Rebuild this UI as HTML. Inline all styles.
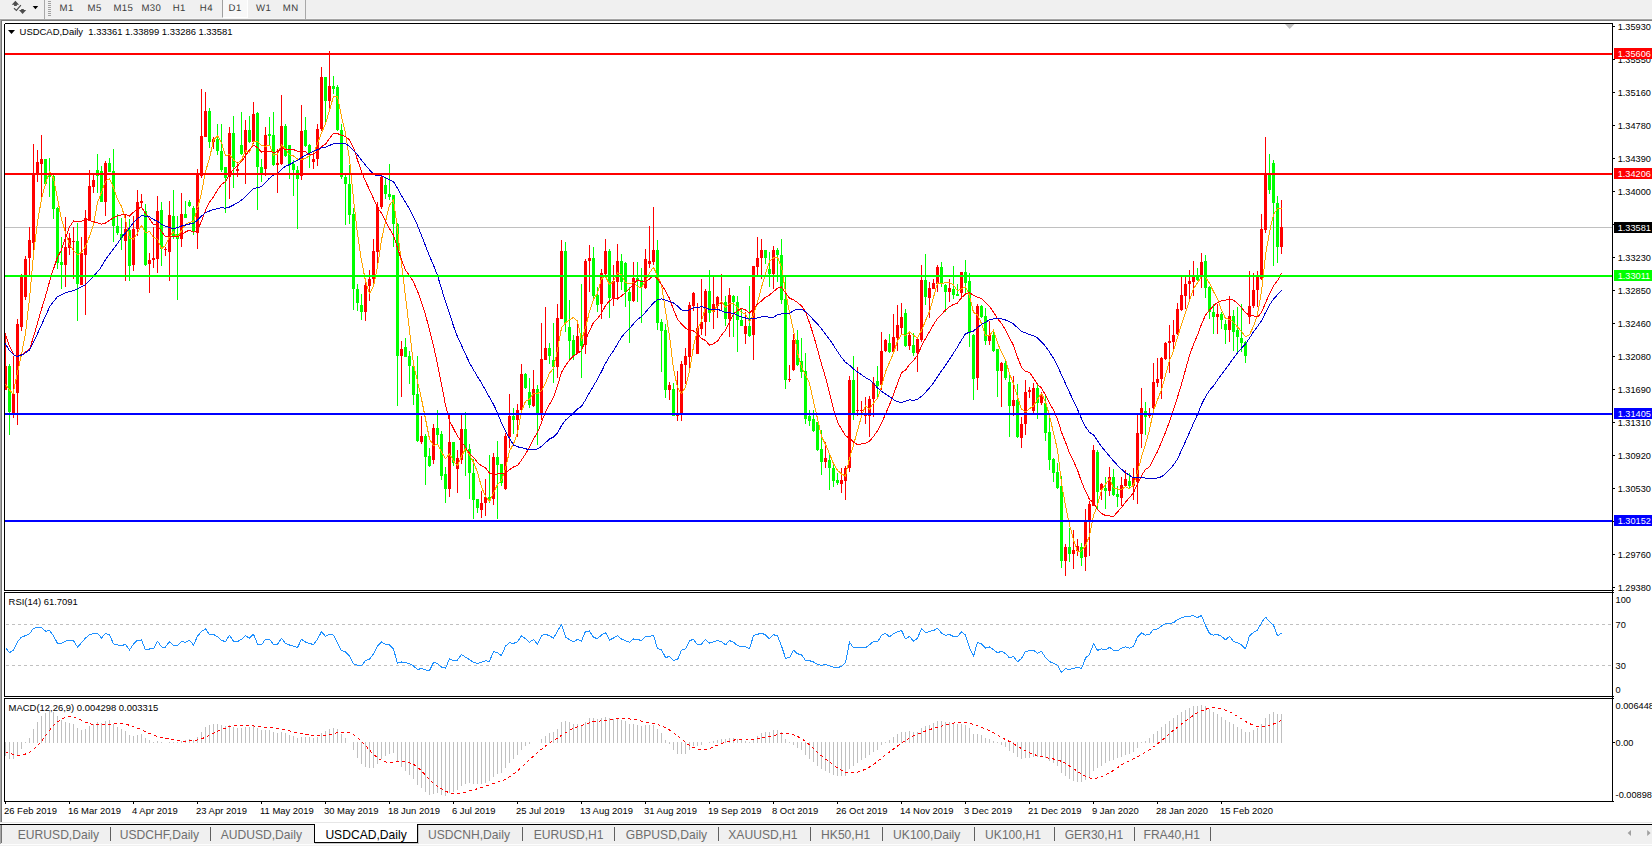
<!DOCTYPE html>
<html><head><meta charset="utf-8"><title>USDCAD,Daily</title>
<style>
html,body{margin:0;padding:0;background:#fff;}
body{width:1652px;height:846px;position:relative;overflow:hidden;font-family:"Liberation Sans",sans-serif;}
.abs{position:absolute;}
#tb{left:0;top:0;width:1652px;height:19px;background:#f0f0f0;}
#tbline{left:0;top:19px;width:1652px;height:2px;background:linear-gradient(#b8b8b8,#6a6a6a);}
.tf{position:absolute;top:2px;font-size:10px;color:#3c3c3c;line-height:12px;white-space:nowrap;}
.tab{position:absolute;top:828px;margin-left:-0.5px;font-size:12.1px;line-height:15px;color:#6e6e6e;white-space:nowrap;}
.sep{position:absolute;top:827px;width:1px;height:14px;background:#606060;}
svg text{font-family:"Liberation Sans",sans-serif;}
</style></head><body>
<div class="abs" id="tb"></div>
<div class="abs" id="tbline"></div>
<div class="abs" style="left:0;top:18px;width:1652px;height:1px;background:#f5f5f5"></div>
<div class="abs" style="left:0;top:20px;width:1px;height:802px;background:#a6a6a6"></div>
<div class="abs" style="left:1px;top:21px;width:1px;height:801px;background:#747474"></div>
<div class="abs" style="left:44px;top:0;width:1px;height:19px;background:#a8a8a8"></div>
<div class="abs" style="left:305px;top:0;width:1px;height:19px;background:#a8a8a8"></div>
<div class="abs" style="left:222px;top:0;width:26px;height:18px;background:#f8f8f8;border-left:1px solid #a0a0a0;border-right:1px solid #fff;border-bottom:1px solid #fff;box-sizing:border-box"></div>

<div class="abs" style="left:48px;top:1px;width:3px;height:1px;background:#a0a0a0"></div>
<div class="abs" style="left:48px;top:3px;width:3px;height:1px;background:#a0a0a0"></div>
<div class="abs" style="left:48px;top:5px;width:3px;height:1px;background:#a0a0a0"></div>
<div class="abs" style="left:48px;top:7px;width:3px;height:1px;background:#a0a0a0"></div>
<div class="abs" style="left:48px;top:9px;width:3px;height:1px;background:#a0a0a0"></div>
<div class="abs" style="left:48px;top:11px;width:3px;height:1px;background:#a0a0a0"></div>
<div class="abs" style="left:48px;top:13px;width:3px;height:1px;background:#a0a0a0"></div>
<div class="abs" style="left:48px;top:15px;width:3px;height:1px;background:#a0a0a0"></div>
<svg class="abs" style="left:0;top:0" width="44" height="19" viewBox="0 0 44 19">
<polygon points="11.7,4.8 15.4,0.7 19.1,4.8 16.8,4.8 16.8,5.9 14.1,5.9 14.1,4.8" fill="#4d4d4d"/>
<polygon points="19,10.1 21.2,10.1 21.2,9 23.8,9 23.8,10.1 26.2,10.1 22.6,14" fill="#4d4d4d"/>
<polyline points="14,8.3 16.4,10.4 20.9,5.1" fill="none" stroke="#4d4d4d" stroke-width="1.15"/>
<polygon points="32.7,6 38.2,6 35.45,9.3" fill="#000"/>
</svg>
<svg class="abs" style="left:0;top:0" width="320" height="19" viewBox="0 0 320 19" text-rendering="geometricPrecision">
<text x="59.5" y="10.9" font-size="9.6" letter-spacing="0.45" fill="#3c3c3c">M1</text>
<text x="87.5" y="10.9" font-size="9.6" letter-spacing="0.45" fill="#3c3c3c">M5</text>
<text x="113.4" y="10.9" font-size="9.6" letter-spacing="0.45" fill="#3c3c3c">M15</text>
<text x="141.4" y="10.9" font-size="9.6" letter-spacing="0.45" fill="#3c3c3c">M30</text>
<text x="172.7" y="10.9" font-size="9.6" letter-spacing="0.45" fill="#3c3c3c">H1</text>
<text x="199.8" y="10.9" font-size="9.6" letter-spacing="0.45" fill="#3c3c3c">H4</text>
<text x="228.6" y="10.9" font-size="9.6" letter-spacing="0.45" fill="#3c3c3c">D1</text>
<text x="256.0" y="10.9" font-size="9.6" letter-spacing="0.45" fill="#3c3c3c">W1</text>
<text x="282.7" y="10.9" font-size="9.6" letter-spacing="0.45" fill="#3c3c3c">MN</text>
</svg>
<svg class="abs" style="left:0;top:0" width="1652" height="846" viewBox="0 0 1652 846" shape-rendering="crispEdges">
<polygon points="1285,24 1294.5,24 1289.7,29" fill="#c0c0c0" shape-rendering="auto"/>
<polygon points="8,30 15,30 11.5,34" fill="#000" shape-rendering="auto"/>
<text x="19.6" y="35" font-size="9.45" fill="#000">USDCAD,Daily&#160; 1.33361 1.33899 1.33286 1.33581</text>
<text x="8.6" y="605" font-size="9.45" fill="#000">RSI(14) 61.7091</text>
<text x="8.6" y="711" font-size="9.45" fill="#000">MACD(12,26,9) 0.004298 0.003315</text>
<path d="M1613,26.5 H1615" stroke="#000"/>
<text x="1617.7" y="29.7" font-size="9.2" fill="#000">1.35930</text>
<path d="M1613,59.5 H1615" stroke="#000"/>
<text x="1617.7" y="62.7" font-size="9.2" fill="#000">1.35550</text>
<path d="M1613,92.5 H1615" stroke="#000"/>
<text x="1617.7" y="95.7" font-size="9.2" fill="#000">1.35160</text>
<path d="M1613,125.5 H1615" stroke="#000"/>
<text x="1617.7" y="128.7" font-size="9.2" fill="#000">1.34780</text>
<path d="M1613,158.5 H1615" stroke="#000"/>
<text x="1617.7" y="161.7" font-size="9.2" fill="#000">1.34390</text>
<path d="M1613,191.5 H1615" stroke="#000"/>
<text x="1617.7" y="194.7" font-size="9.2" fill="#000">1.34000</text>
<path d="M1613,224.5 H1615" stroke="#000"/>
<text x="1617.7" y="227.7" font-size="9.2" fill="#000">1.33620</text>
<path d="M1613,257.5 H1615" stroke="#000"/>
<text x="1617.7" y="260.7" font-size="9.2" fill="#000">1.33230</text>
<path d="M1613,290.5 H1615" stroke="#000"/>
<text x="1617.7" y="293.7" font-size="9.2" fill="#000">1.32850</text>
<path d="M1613,323.5 H1615" stroke="#000"/>
<text x="1617.7" y="326.7" font-size="9.2" fill="#000">1.32460</text>
<path d="M1613,356.5 H1615" stroke="#000"/>
<text x="1617.7" y="359.7" font-size="9.2" fill="#000">1.32080</text>
<path d="M1613,389.5 H1615" stroke="#000"/>
<text x="1617.7" y="392.7" font-size="9.2" fill="#000">1.31690</text>
<path d="M1613,422.5 H1615" stroke="#000"/>
<text x="1617.7" y="425.7" font-size="9.2" fill="#000">1.31310</text>
<path d="M1613,455.5 H1615" stroke="#000"/>
<text x="1617.7" y="458.7" font-size="9.2" fill="#000">1.30920</text>
<path d="M1613,488.5 H1615" stroke="#000"/>
<text x="1617.7" y="491.7" font-size="9.2" fill="#000">1.30530</text>
<path d="M1613,521.5 H1615" stroke="#000"/>
<text x="1617.7" y="524.7" font-size="9.2" fill="#000">1.30150</text>
<path d="M1613,554.5 H1615" stroke="#000"/>
<text x="1617.7" y="557.7" font-size="9.2" fill="#000">1.29760</text>
<path d="M1613,587.5 H1615" stroke="#000"/>
<text x="1617.7" y="590.7" font-size="9.2" fill="#000">1.29380</text>
<path d="M5,227.5 H1612" stroke="#c0c0c0"/>
<g>
<rect x="5" y="333" width="1" height="57" fill="#ff0000"/>
<rect x="4" y="366" width="3" height="24" fill="#ff0000"/>
<rect x="9" y="364" width="1" height="71" fill="#00ff00"/>
<rect x="8" y="366" width="3" height="46" fill="#00ff00"/>
<rect x="13" y="356" width="1" height="62" fill="#ff0000"/>
<rect x="12" y="394" width="3" height="20" fill="#ff0000"/>
<rect x="17" y="319" width="1" height="106" fill="#ff0000"/>
<rect x="16" y="324" width="3" height="69" fill="#ff0000"/>
<rect x="21" y="274" width="1" height="57" fill="#ff0000"/>
<rect x="20" y="276" width="3" height="51" fill="#ff0000"/>
<rect x="25" y="256" width="1" height="44" fill="#ff0000"/>
<rect x="24" y="259" width="3" height="38" fill="#ff0000"/>
<rect x="29" y="227" width="1" height="48" fill="#ff0000"/>
<rect x="28" y="240" width="3" height="18" fill="#ff0000"/>
<rect x="33" y="144" width="1" height="106" fill="#ff0000"/>
<rect x="32" y="173" width="3" height="70" fill="#ff0000"/>
<rect x="37" y="150" width="1" height="32" fill="#ff0000"/>
<rect x="36" y="162" width="3" height="11" fill="#ff0000"/>
<rect x="41" y="135" width="1" height="63" fill="#ff0000"/>
<rect x="40" y="159" width="3" height="5" fill="#ff0000"/>
<rect x="45" y="159" width="1" height="25" fill="#00ff00"/>
<rect x="44" y="159" width="3" height="25" fill="#00ff00"/>
<rect x="49" y="158" width="1" height="39" fill="#00ff00"/>
<rect x="48" y="174" width="3" height="3" fill="#00ff00"/>
<rect x="53" y="175" width="1" height="44" fill="#00ff00"/>
<rect x="52" y="176" width="3" height="33" fill="#00ff00"/>
<rect x="57" y="207" width="1" height="62" fill="#00ff00"/>
<rect x="56" y="208" width="3" height="55" fill="#00ff00"/>
<rect x="61" y="237" width="1" height="52" fill="#00ff00"/>
<rect x="60" y="262" width="3" height="3" fill="#00ff00"/>
<rect x="65" y="217" width="1" height="70" fill="#ff0000"/>
<rect x="64" y="247" width="3" height="18" fill="#ff0000"/>
<rect x="69" y="233" width="1" height="22" fill="#ff0000"/>
<rect x="68" y="238" width="3" height="10" fill="#ff0000"/>
<rect x="73" y="227" width="1" height="52" fill="#ff0000"/>
<rect x="72" y="241" width="3" height="1" fill="#ff0000"/>
<rect x="77" y="223" width="1" height="98" fill="#00ff00"/>
<rect x="76" y="241" width="3" height="43" fill="#00ff00"/>
<rect x="81" y="237" width="1" height="48" fill="#ff0000"/>
<rect x="80" y="253" width="3" height="32" fill="#ff0000"/>
<rect x="85" y="210" width="1" height="105" fill="#ff0000"/>
<rect x="84" y="218" width="3" height="37" fill="#ff0000"/>
<rect x="89" y="170" width="1" height="50" fill="#ff0000"/>
<rect x="88" y="186" width="3" height="34" fill="#ff0000"/>
<rect x="93" y="174" width="1" height="19" fill="#ff0000"/>
<rect x="92" y="180" width="3" height="7" fill="#ff0000"/>
<rect x="97" y="154" width="1" height="39" fill="#00ff00"/>
<rect x="96" y="170" width="3" height="6" fill="#00ff00"/>
<rect x="101" y="166" width="1" height="36" fill="#00ff00"/>
<rect x="100" y="171" width="3" height="31" fill="#00ff00"/>
<rect x="105" y="161" width="1" height="55" fill="#ff0000"/>
<rect x="104" y="163" width="3" height="39" fill="#ff0000"/>
<rect x="109" y="158" width="1" height="14" fill="#00ff00"/>
<rect x="108" y="163" width="3" height="9" fill="#00ff00"/>
<rect x="113" y="149" width="1" height="93" fill="#00ff00"/>
<rect x="112" y="171" width="3" height="55" fill="#00ff00"/>
<rect x="117" y="214" width="1" height="21" fill="#00ff00"/>
<rect x="116" y="226" width="3" height="7" fill="#00ff00"/>
<rect x="121" y="218" width="1" height="32" fill="#00ff00"/>
<rect x="120" y="234" width="3" height="4" fill="#00ff00"/>
<rect x="125" y="214" width="1" height="67" fill="#ff0000"/>
<rect x="124" y="229" width="3" height="12" fill="#ff0000"/>
<rect x="129" y="219" width="1" height="62" fill="#00ff00"/>
<rect x="128" y="230" width="3" height="36" fill="#00ff00"/>
<rect x="133" y="216" width="1" height="55" fill="#ff0000"/>
<rect x="132" y="229" width="3" height="36" fill="#ff0000"/>
<rect x="137" y="190" width="1" height="46" fill="#ff0000"/>
<rect x="136" y="202" width="3" height="27" fill="#ff0000"/>
<rect x="141" y="194" width="1" height="14" fill="#ff0000"/>
<rect x="140" y="201" width="3" height="2" fill="#ff0000"/>
<rect x="145" y="204" width="1" height="62" fill="#00ff00"/>
<rect x="144" y="211" width="3" height="54" fill="#00ff00"/>
<rect x="149" y="253" width="1" height="40" fill="#ff0000"/>
<rect x="148" y="260" width="3" height="4" fill="#ff0000"/>
<rect x="153" y="227" width="1" height="41" fill="#ff0000"/>
<rect x="152" y="258" width="3" height="2" fill="#ff0000"/>
<rect x="157" y="196" width="1" height="77" fill="#ff0000"/>
<rect x="156" y="211" width="3" height="48" fill="#ff0000"/>
<rect x="161" y="202" width="1" height="64" fill="#00ff00"/>
<rect x="160" y="210" width="3" height="39" fill="#00ff00"/>
<rect x="165" y="247" width="1" height="9" fill="#ff0000"/>
<rect x="164" y="249" width="3" height="1" fill="#ff0000"/>
<rect x="169" y="201" width="1" height="80" fill="#ff0000"/>
<rect x="168" y="215" width="3" height="37" fill="#ff0000"/>
<rect x="173" y="190" width="1" height="49" fill="#00ff00"/>
<rect x="172" y="216" width="3" height="20" fill="#00ff00"/>
<rect x="177" y="216" width="1" height="84" fill="#00ff00"/>
<rect x="176" y="234" width="3" height="5" fill="#00ff00"/>
<rect x="181" y="193" width="1" height="54" fill="#ff0000"/>
<rect x="180" y="214" width="3" height="25" fill="#ff0000"/>
<rect x="185" y="201" width="1" height="17" fill="#00ff00"/>
<rect x="184" y="214" width="3" height="4" fill="#00ff00"/>
<rect x="189" y="200" width="1" height="7" fill="#00ff00"/>
<rect x="188" y="202" width="3" height="4" fill="#00ff00"/>
<rect x="193" y="206" width="1" height="29" fill="#00ff00"/>
<rect x="192" y="208" width="3" height="23" fill="#00ff00"/>
<rect x="197" y="169" width="1" height="80" fill="#ff0000"/>
<rect x="196" y="174" width="3" height="59" fill="#ff0000"/>
<rect x="201" y="89" width="1" height="89" fill="#ff0000"/>
<rect x="200" y="136" width="3" height="40" fill="#ff0000"/>
<rect x="205" y="92" width="1" height="45" fill="#ff0000"/>
<rect x="204" y="111" width="3" height="26" fill="#ff0000"/>
<rect x="209" y="108" width="1" height="40" fill="#00ff00"/>
<rect x="208" y="111" width="3" height="31" fill="#00ff00"/>
<rect x="213" y="137" width="1" height="12" fill="#ff0000"/>
<rect x="212" y="139" width="3" height="3" fill="#ff0000"/>
<rect x="217" y="124" width="1" height="31" fill="#00ff00"/>
<rect x="216" y="139" width="3" height="12" fill="#00ff00"/>
<rect x="221" y="124" width="1" height="48" fill="#00ff00"/>
<rect x="220" y="151" width="3" height="19" fill="#00ff00"/>
<rect x="225" y="167" width="1" height="46" fill="#00ff00"/>
<rect x="224" y="167" width="3" height="11" fill="#00ff00"/>
<rect x="229" y="127" width="1" height="72" fill="#ff0000"/>
<rect x="228" y="133" width="3" height="44" fill="#ff0000"/>
<rect x="233" y="116" width="1" height="72" fill="#00ff00"/>
<rect x="232" y="133" width="3" height="34" fill="#00ff00"/>
<rect x="237" y="162" width="1" height="15" fill="#ff0000"/>
<rect x="236" y="169" width="3" height="2" fill="#ff0000"/>
<rect x="241" y="112" width="1" height="43" fill="#00ff00"/>
<rect x="240" y="145" width="3" height="9" fill="#00ff00"/>
<rect x="245" y="120" width="1" height="64" fill="#ff0000"/>
<rect x="244" y="130" width="3" height="22" fill="#ff0000"/>
<rect x="249" y="116" width="1" height="27" fill="#00ff00"/>
<rect x="248" y="130" width="3" height="12" fill="#00ff00"/>
<rect x="253" y="102" width="1" height="42" fill="#ff0000"/>
<rect x="252" y="114" width="3" height="28" fill="#ff0000"/>
<rect x="257" y="112" width="1" height="98" fill="#00ff00"/>
<rect x="256" y="113" width="3" height="54" fill="#00ff00"/>
<rect x="261" y="159" width="1" height="23" fill="#00ff00"/>
<rect x="260" y="167" width="3" height="6" fill="#00ff00"/>
<rect x="265" y="127" width="1" height="49" fill="#ff0000"/>
<rect x="264" y="135" width="3" height="34" fill="#ff0000"/>
<rect x="269" y="117" width="1" height="28" fill="#00ff00"/>
<rect x="268" y="134" width="3" height="2" fill="#00ff00"/>
<rect x="273" y="112" width="1" height="54" fill="#00ff00"/>
<rect x="272" y="135" width="3" height="30" fill="#00ff00"/>
<rect x="277" y="149" width="1" height="44" fill="#ff0000"/>
<rect x="276" y="163" width="3" height="2" fill="#ff0000"/>
<rect x="281" y="95" width="1" height="70" fill="#ff0000"/>
<rect x="280" y="126" width="3" height="38" fill="#ff0000"/>
<rect x="285" y="124" width="1" height="33" fill="#00ff00"/>
<rect x="284" y="126" width="3" height="30" fill="#00ff00"/>
<rect x="289" y="145" width="1" height="34" fill="#00ff00"/>
<rect x="288" y="145" width="3" height="19" fill="#00ff00"/>
<rect x="293" y="160" width="1" height="36" fill="#00ff00"/>
<rect x="292" y="164" width="3" height="6" fill="#00ff00"/>
<rect x="297" y="166" width="1" height="63" fill="#00ff00"/>
<rect x="296" y="170" width="3" height="9" fill="#00ff00"/>
<rect x="301" y="105" width="1" height="75" fill="#ff0000"/>
<rect x="300" y="131" width="3" height="45" fill="#ff0000"/>
<rect x="305" y="117" width="1" height="30" fill="#00ff00"/>
<rect x="304" y="130" width="3" height="16" fill="#00ff00"/>
<rect x="309" y="144" width="1" height="24" fill="#00ff00"/>
<rect x="308" y="145" width="3" height="8" fill="#00ff00"/>
<rect x="313" y="154" width="1" height="15" fill="#ff0000"/>
<rect x="312" y="159" width="3" height="3" fill="#ff0000"/>
<rect x="317" y="124" width="1" height="42" fill="#ff0000"/>
<rect x="316" y="129" width="3" height="30" fill="#ff0000"/>
<rect x="321" y="67" width="1" height="64" fill="#ff0000"/>
<rect x="320" y="77" width="3" height="52" fill="#ff0000"/>
<rect x="325" y="77" width="1" height="48" fill="#00ff00"/>
<rect x="324" y="77" width="3" height="24" fill="#00ff00"/>
<rect x="329" y="51" width="1" height="58" fill="#ff0000"/>
<rect x="328" y="86" width="3" height="15" fill="#ff0000"/>
<rect x="333" y="76" width="1" height="18" fill="#00ff00"/>
<rect x="332" y="86" width="3" height="3" fill="#00ff00"/>
<rect x="337" y="85" width="1" height="46" fill="#00ff00"/>
<rect x="336" y="87" width="3" height="43" fill="#00ff00"/>
<rect x="341" y="124" width="1" height="55" fill="#00ff00"/>
<rect x="340" y="130" width="3" height="47" fill="#00ff00"/>
<rect x="345" y="175" width="1" height="50" fill="#00ff00"/>
<rect x="344" y="177" width="3" height="7" fill="#00ff00"/>
<rect x="349" y="165" width="1" height="59" fill="#00ff00"/>
<rect x="348" y="184" width="3" height="31" fill="#00ff00"/>
<rect x="353" y="208" width="1" height="102" fill="#00ff00"/>
<rect x="352" y="214" width="3" height="75" fill="#00ff00"/>
<rect x="357" y="284" width="1" height="27" fill="#00ff00"/>
<rect x="356" y="289" width="3" height="14" fill="#00ff00"/>
<rect x="361" y="294" width="1" height="26" fill="#00ff00"/>
<rect x="360" y="305" width="3" height="7" fill="#00ff00"/>
<rect x="365" y="282" width="1" height="39" fill="#ff0000"/>
<rect x="364" y="285" width="3" height="27" fill="#ff0000"/>
<rect x="369" y="270" width="1" height="31" fill="#ff0000"/>
<rect x="368" y="279" width="3" height="7" fill="#ff0000"/>
<rect x="373" y="239" width="1" height="44" fill="#ff0000"/>
<rect x="372" y="251" width="3" height="28" fill="#ff0000"/>
<rect x="377" y="202" width="1" height="62" fill="#ff0000"/>
<rect x="376" y="207" width="3" height="45" fill="#ff0000"/>
<rect x="381" y="176" width="1" height="33" fill="#ff0000"/>
<rect x="380" y="177" width="3" height="30" fill="#ff0000"/>
<rect x="385" y="177" width="1" height="22" fill="#00ff00"/>
<rect x="384" y="185" width="3" height="9" fill="#00ff00"/>
<rect x="389" y="164" width="1" height="36" fill="#00ff00"/>
<rect x="388" y="194" width="3" height="3" fill="#00ff00"/>
<rect x="393" y="195" width="1" height="52" fill="#00ff00"/>
<rect x="392" y="195" width="3" height="29" fill="#00ff00"/>
<rect x="397" y="223" width="1" height="183" fill="#00ff00"/>
<rect x="396" y="224" width="3" height="132" fill="#00ff00"/>
<rect x="401" y="341" width="1" height="56" fill="#ff0000"/>
<rect x="400" y="349" width="3" height="7" fill="#ff0000"/>
<rect x="405" y="338" width="1" height="19" fill="#00ff00"/>
<rect x="404" y="347" width="3" height="10" fill="#00ff00"/>
<rect x="409" y="351" width="1" height="33" fill="#00ff00"/>
<rect x="408" y="356" width="3" height="10" fill="#00ff00"/>
<rect x="413" y="365" width="1" height="40" fill="#00ff00"/>
<rect x="412" y="366" width="3" height="29" fill="#00ff00"/>
<rect x="417" y="356" width="1" height="86" fill="#00ff00"/>
<rect x="416" y="394" width="3" height="47" fill="#00ff00"/>
<rect x="421" y="416" width="1" height="28" fill="#ff0000"/>
<rect x="420" y="436" width="3" height="6" fill="#ff0000"/>
<rect x="425" y="434" width="1" height="51" fill="#00ff00"/>
<rect x="424" y="436" width="3" height="21" fill="#00ff00"/>
<rect x="429" y="448" width="1" height="19" fill="#00ff00"/>
<rect x="428" y="456" width="3" height="10" fill="#00ff00"/>
<rect x="433" y="424" width="1" height="40" fill="#ff0000"/>
<rect x="432" y="428" width="3" height="32" fill="#ff0000"/>
<rect x="437" y="410" width="1" height="35" fill="#00ff00"/>
<rect x="436" y="428" width="3" height="7" fill="#00ff00"/>
<rect x="441" y="431" width="1" height="49" fill="#00ff00"/>
<rect x="440" y="434" width="3" height="42" fill="#00ff00"/>
<rect x="445" y="467" width="1" height="36" fill="#00ff00"/>
<rect x="444" y="474" width="3" height="15" fill="#00ff00"/>
<rect x="449" y="414" width="1" height="83" fill="#ff0000"/>
<rect x="448" y="442" width="3" height="47" fill="#ff0000"/>
<rect x="453" y="442" width="1" height="24" fill="#00ff00"/>
<rect x="452" y="442" width="3" height="21" fill="#00ff00"/>
<rect x="457" y="450" width="1" height="43" fill="#ff0000"/>
<rect x="456" y="458" width="3" height="11" fill="#ff0000"/>
<rect x="461" y="415" width="1" height="49" fill="#ff0000"/>
<rect x="460" y="429" width="3" height="31" fill="#ff0000"/>
<rect x="465" y="412" width="1" height="64" fill="#00ff00"/>
<rect x="464" y="429" width="3" height="22" fill="#00ff00"/>
<rect x="469" y="444" width="1" height="55" fill="#00ff00"/>
<rect x="468" y="449" width="3" height="24" fill="#00ff00"/>
<rect x="473" y="459" width="1" height="60" fill="#00ff00"/>
<rect x="472" y="473" width="3" height="27" fill="#00ff00"/>
<rect x="477" y="499" width="1" height="14" fill="#00ff00"/>
<rect x="476" y="499" width="3" height="9" fill="#00ff00"/>
<rect x="481" y="491" width="1" height="27" fill="#ff0000"/>
<rect x="480" y="503" width="3" height="7" fill="#ff0000"/>
<rect x="485" y="479" width="1" height="37" fill="#ff0000"/>
<rect x="484" y="497" width="3" height="6" fill="#ff0000"/>
<rect x="489" y="455" width="1" height="48" fill="#00ff00"/>
<rect x="488" y="497" width="3" height="3" fill="#00ff00"/>
<rect x="493" y="453" width="1" height="52" fill="#ff0000"/>
<rect x="492" y="457" width="3" height="42" fill="#ff0000"/>
<rect x="497" y="441" width="1" height="78" fill="#00ff00"/>
<rect x="496" y="457" width="3" height="8" fill="#00ff00"/>
<rect x="501" y="464" width="1" height="22" fill="#00ff00"/>
<rect x="500" y="464" width="3" height="19" fill="#00ff00"/>
<rect x="505" y="433" width="1" height="57" fill="#ff0000"/>
<rect x="504" y="436" width="3" height="53" fill="#ff0000"/>
<rect x="509" y="394" width="1" height="54" fill="#ff0000"/>
<rect x="508" y="416" width="3" height="21" fill="#ff0000"/>
<rect x="513" y="408" width="1" height="26" fill="#00ff00"/>
<rect x="512" y="416" width="3" height="4" fill="#00ff00"/>
<rect x="517" y="404" width="1" height="33" fill="#ff0000"/>
<rect x="516" y="410" width="3" height="10" fill="#ff0000"/>
<rect x="521" y="364" width="1" height="46" fill="#ff0000"/>
<rect x="520" y="374" width="3" height="36" fill="#ff0000"/>
<rect x="525" y="373" width="1" height="16" fill="#00ff00"/>
<rect x="524" y="374" width="3" height="14" fill="#00ff00"/>
<rect x="529" y="378" width="1" height="30" fill="#00ff00"/>
<rect x="528" y="392" width="3" height="13" fill="#00ff00"/>
<rect x="533" y="370" width="1" height="37" fill="#ff0000"/>
<rect x="532" y="389" width="3" height="17" fill="#ff0000"/>
<rect x="537" y="385" width="1" height="60" fill="#00ff00"/>
<rect x="536" y="389" width="3" height="24" fill="#00ff00"/>
<rect x="541" y="323" width="1" height="97" fill="#ff0000"/>
<rect x="540" y="359" width="3" height="54" fill="#ff0000"/>
<rect x="545" y="307" width="1" height="53" fill="#ff0000"/>
<rect x="544" y="348" width="3" height="12" fill="#ff0000"/>
<rect x="549" y="343" width="1" height="21" fill="#00ff00"/>
<rect x="548" y="348" width="3" height="8" fill="#00ff00"/>
<rect x="553" y="323" width="1" height="60" fill="#00ff00"/>
<rect x="552" y="360" width="3" height="7" fill="#00ff00"/>
<rect x="557" y="304" width="1" height="74" fill="#ff0000"/>
<rect x="556" y="318" width="3" height="49" fill="#ff0000"/>
<rect x="561" y="240" width="1" height="79" fill="#ff0000"/>
<rect x="560" y="251" width="3" height="68" fill="#ff0000"/>
<rect x="565" y="242" width="1" height="90" fill="#00ff00"/>
<rect x="564" y="251" width="3" height="72" fill="#00ff00"/>
<rect x="569" y="300" width="1" height="59" fill="#00ff00"/>
<rect x="568" y="327" width="3" height="14" fill="#00ff00"/>
<rect x="573" y="335" width="1" height="25" fill="#00ff00"/>
<rect x="572" y="340" width="3" height="16" fill="#00ff00"/>
<rect x="577" y="321" width="1" height="32" fill="#ff0000"/>
<rect x="576" y="336" width="3" height="17" fill="#ff0000"/>
<rect x="581" y="284" width="1" height="94" fill="#00ff00"/>
<rect x="580" y="337" width="3" height="9" fill="#00ff00"/>
<rect x="585" y="259" width="1" height="95" fill="#ff0000"/>
<rect x="584" y="261" width="3" height="84" fill="#ff0000"/>
<rect x="589" y="245" width="1" height="47" fill="#ff0000"/>
<rect x="588" y="258" width="3" height="3" fill="#ff0000"/>
<rect x="593" y="247" width="1" height="51" fill="#00ff00"/>
<rect x="592" y="258" width="3" height="38" fill="#00ff00"/>
<rect x="597" y="287" width="1" height="25" fill="#00ff00"/>
<rect x="596" y="295" width="3" height="10" fill="#00ff00"/>
<rect x="601" y="269" width="1" height="50" fill="#ff0000"/>
<rect x="600" y="273" width="3" height="31" fill="#ff0000"/>
<rect x="605" y="239" width="1" height="36" fill="#ff0000"/>
<rect x="604" y="251" width="3" height="23" fill="#ff0000"/>
<rect x="609" y="249" width="1" height="69" fill="#00ff00"/>
<rect x="608" y="251" width="3" height="47" fill="#00ff00"/>
<rect x="613" y="265" width="1" height="41" fill="#ff0000"/>
<rect x="612" y="281" width="3" height="17" fill="#ff0000"/>
<rect x="617" y="244" width="1" height="56" fill="#ff0000"/>
<rect x="616" y="261" width="3" height="21" fill="#ff0000"/>
<rect x="621" y="254" width="1" height="36" fill="#00ff00"/>
<rect x="620" y="261" width="3" height="21" fill="#00ff00"/>
<rect x="625" y="262" width="1" height="45" fill="#00ff00"/>
<rect x="624" y="263" width="3" height="29" fill="#00ff00"/>
<rect x="629" y="287" width="1" height="56" fill="#00ff00"/>
<rect x="628" y="292" width="3" height="9" fill="#00ff00"/>
<rect x="633" y="262" width="1" height="40" fill="#ff0000"/>
<rect x="632" y="278" width="3" height="23" fill="#ff0000"/>
<rect x="637" y="262" width="1" height="40" fill="#00ff00"/>
<rect x="636" y="278" width="3" height="2" fill="#00ff00"/>
<rect x="641" y="268" width="1" height="55" fill="#00ff00"/>
<rect x="640" y="280" width="3" height="7" fill="#00ff00"/>
<rect x="645" y="249" width="1" height="40" fill="#ff0000"/>
<rect x="644" y="259" width="3" height="29" fill="#ff0000"/>
<rect x="649" y="226" width="1" height="42" fill="#ff0000"/>
<rect x="648" y="261" width="3" height="3" fill="#ff0000"/>
<rect x="653" y="207" width="1" height="58" fill="#ff0000"/>
<rect x="652" y="250" width="3" height="12" fill="#ff0000"/>
<rect x="657" y="240" width="1" height="90" fill="#00ff00"/>
<rect x="656" y="250" width="3" height="73" fill="#00ff00"/>
<rect x="661" y="319" width="1" height="53" fill="#00ff00"/>
<rect x="660" y="322" width="3" height="9" fill="#00ff00"/>
<rect x="665" y="324" width="1" height="74" fill="#00ff00"/>
<rect x="664" y="330" width="3" height="60" fill="#00ff00"/>
<rect x="669" y="382" width="1" height="18" fill="#ff0000"/>
<rect x="668" y="385" width="3" height="5" fill="#ff0000"/>
<rect x="673" y="383" width="1" height="33" fill="#00ff00"/>
<rect x="672" y="389" width="3" height="27" fill="#00ff00"/>
<rect x="677" y="371" width="1" height="50" fill="#ff0000"/>
<rect x="676" y="414" width="3" height="2" fill="#ff0000"/>
<rect x="681" y="361" width="1" height="60" fill="#ff0000"/>
<rect x="680" y="364" width="3" height="51" fill="#ff0000"/>
<rect x="685" y="348" width="1" height="36" fill="#ff0000"/>
<rect x="684" y="356" width="3" height="9" fill="#ff0000"/>
<rect x="689" y="302" width="1" height="67" fill="#ff0000"/>
<rect x="688" y="305" width="3" height="52" fill="#ff0000"/>
<rect x="693" y="292" width="1" height="19" fill="#ff0000"/>
<rect x="692" y="293" width="3" height="13" fill="#ff0000"/>
<rect x="697" y="303" width="1" height="51" fill="#ff0000"/>
<rect x="696" y="328" width="3" height="26" fill="#ff0000"/>
<rect x="701" y="279" width="1" height="56" fill="#ff0000"/>
<rect x="700" y="322" width="3" height="7" fill="#ff0000"/>
<rect x="705" y="289" width="1" height="47" fill="#ff0000"/>
<rect x="704" y="291" width="3" height="31" fill="#ff0000"/>
<rect x="709" y="270" width="1" height="52" fill="#00ff00"/>
<rect x="708" y="291" width="3" height="22" fill="#00ff00"/>
<rect x="713" y="277" width="1" height="52" fill="#ff0000"/>
<rect x="712" y="304" width="3" height="8" fill="#ff0000"/>
<rect x="717" y="296" width="1" height="22" fill="#ff0000"/>
<rect x="716" y="297" width="3" height="9" fill="#ff0000"/>
<rect x="721" y="274" width="1" height="37" fill="#ff0000"/>
<rect x="720" y="302" width="3" height="2" fill="#ff0000"/>
<rect x="725" y="296" width="1" height="30" fill="#00ff00"/>
<rect x="724" y="302" width="3" height="17" fill="#00ff00"/>
<rect x="729" y="288" width="1" height="49" fill="#ff0000"/>
<rect x="728" y="295" width="3" height="24" fill="#ff0000"/>
<rect x="733" y="295" width="1" height="42" fill="#00ff00"/>
<rect x="732" y="296" width="3" height="6" fill="#00ff00"/>
<rect x="737" y="296" width="1" height="56" fill="#00ff00"/>
<rect x="736" y="302" width="3" height="18" fill="#00ff00"/>
<rect x="741" y="309" width="1" height="17" fill="#00ff00"/>
<rect x="740" y="320" width="3" height="6" fill="#00ff00"/>
<rect x="745" y="312" width="1" height="32" fill="#ff0000"/>
<rect x="744" y="326" width="3" height="8" fill="#ff0000"/>
<rect x="749" y="286" width="1" height="51" fill="#00ff00"/>
<rect x="748" y="326" width="3" height="10" fill="#00ff00"/>
<rect x="753" y="266" width="1" height="94" fill="#ff0000"/>
<rect x="752" y="266" width="3" height="69" fill="#ff0000"/>
<rect x="757" y="237" width="1" height="38" fill="#ff0000"/>
<rect x="756" y="258" width="3" height="9" fill="#ff0000"/>
<rect x="761" y="239" width="1" height="40" fill="#ff0000"/>
<rect x="760" y="250" width="3" height="8" fill="#ff0000"/>
<rect x="765" y="250" width="1" height="14" fill="#00ff00"/>
<rect x="764" y="250" width="3" height="8" fill="#00ff00"/>
<rect x="769" y="252" width="1" height="35" fill="#00ff00"/>
<rect x="768" y="269" width="3" height="5" fill="#00ff00"/>
<rect x="773" y="246" width="1" height="43" fill="#ff0000"/>
<rect x="772" y="250" width="3" height="24" fill="#ff0000"/>
<rect x="777" y="248" width="1" height="34" fill="#00ff00"/>
<rect x="776" y="250" width="3" height="5" fill="#00ff00"/>
<rect x="781" y="239" width="1" height="65" fill="#00ff00"/>
<rect x="780" y="255" width="3" height="45" fill="#00ff00"/>
<rect x="785" y="277" width="1" height="112" fill="#00ff00"/>
<rect x="784" y="299" width="3" height="81" fill="#00ff00"/>
<rect x="789" y="365" width="1" height="17" fill="#ff0000"/>
<rect x="788" y="379" width="3" height="1" fill="#ff0000"/>
<rect x="793" y="334" width="1" height="37" fill="#ff0000"/>
<rect x="792" y="340" width="3" height="30" fill="#ff0000"/>
<rect x="797" y="330" width="1" height="36" fill="#00ff00"/>
<rect x="796" y="340" width="3" height="25" fill="#00ff00"/>
<rect x="801" y="338" width="1" height="40" fill="#00ff00"/>
<rect x="800" y="361" width="3" height="11" fill="#00ff00"/>
<rect x="805" y="353" width="1" height="71" fill="#00ff00"/>
<rect x="804" y="371" width="3" height="48" fill="#00ff00"/>
<rect x="809" y="410" width="1" height="16" fill="#00ff00"/>
<rect x="808" y="416" width="3" height="5" fill="#00ff00"/>
<rect x="813" y="410" width="1" height="22" fill="#00ff00"/>
<rect x="812" y="419" width="3" height="12" fill="#00ff00"/>
<rect x="817" y="422" width="1" height="29" fill="#00ff00"/>
<rect x="816" y="422" width="3" height="28" fill="#00ff00"/>
<rect x="821" y="430" width="1" height="45" fill="#00ff00"/>
<rect x="820" y="449" width="3" height="13" fill="#00ff00"/>
<rect x="825" y="442" width="1" height="26" fill="#ff0000"/>
<rect x="824" y="458" width="3" height="4" fill="#ff0000"/>
<rect x="829" y="455" width="1" height="35" fill="#00ff00"/>
<rect x="828" y="460" width="3" height="8" fill="#00ff00"/>
<rect x="833" y="464" width="1" height="23" fill="#00ff00"/>
<rect x="832" y="468" width="3" height="13" fill="#00ff00"/>
<rect x="837" y="473" width="1" height="12" fill="#00ff00"/>
<rect x="836" y="480" width="3" height="3" fill="#00ff00"/>
<rect x="841" y="468" width="1" height="25" fill="#ff0000"/>
<rect x="840" y="480" width="3" height="4" fill="#ff0000"/>
<rect x="845" y="466" width="1" height="34" fill="#ff0000"/>
<rect x="844" y="468" width="3" height="13" fill="#ff0000"/>
<rect x="849" y="376" width="1" height="96" fill="#ff0000"/>
<rect x="848" y="380" width="3" height="88" fill="#ff0000"/>
<rect x="853" y="356" width="1" height="64" fill="#00ff00"/>
<rect x="852" y="380" width="3" height="34" fill="#00ff00"/>
<rect x="857" y="367" width="1" height="49" fill="#ff0000"/>
<rect x="856" y="410" width="3" height="1" fill="#ff0000"/>
<rect x="861" y="401" width="1" height="16" fill="#ff0000"/>
<rect x="860" y="410" width="3" height="1" fill="#ff0000"/>
<rect x="865" y="397" width="1" height="27" fill="#ff0000"/>
<rect x="864" y="413" width="3" height="3" fill="#ff0000"/>
<rect x="869" y="396" width="1" height="41" fill="#ff0000"/>
<rect x="868" y="399" width="3" height="17" fill="#ff0000"/>
<rect x="873" y="377" width="1" height="40" fill="#ff0000"/>
<rect x="872" y="383" width="3" height="16" fill="#ff0000"/>
<rect x="877" y="366" width="1" height="31" fill="#00ff00"/>
<rect x="876" y="381" width="3" height="5" fill="#00ff00"/>
<rect x="881" y="332" width="1" height="58" fill="#ff0000"/>
<rect x="880" y="351" width="3" height="34" fill="#ff0000"/>
<rect x="885" y="339" width="1" height="13" fill="#ff0000"/>
<rect x="884" y="340" width="3" height="11" fill="#ff0000"/>
<rect x="889" y="334" width="1" height="19" fill="#00ff00"/>
<rect x="888" y="343" width="3" height="9" fill="#00ff00"/>
<rect x="893" y="314" width="1" height="39" fill="#ff0000"/>
<rect x="892" y="337" width="3" height="15" fill="#ff0000"/>
<rect x="897" y="305" width="1" height="46" fill="#ff0000"/>
<rect x="896" y="325" width="3" height="13" fill="#ff0000"/>
<rect x="901" y="303" width="1" height="31" fill="#ff0000"/>
<rect x="900" y="317" width="3" height="11" fill="#ff0000"/>
<rect x="905" y="309" width="1" height="38" fill="#00ff00"/>
<rect x="904" y="313" width="3" height="33" fill="#00ff00"/>
<rect x="909" y="333" width="1" height="17" fill="#ff0000"/>
<rect x="908" y="335" width="3" height="11" fill="#ff0000"/>
<rect x="913" y="333" width="1" height="23" fill="#00ff00"/>
<rect x="912" y="345" width="3" height="8" fill="#00ff00"/>
<rect x="917" y="338" width="1" height="34" fill="#ff0000"/>
<rect x="916" y="339" width="3" height="14" fill="#ff0000"/>
<rect x="921" y="265" width="1" height="77" fill="#ff0000"/>
<rect x="920" y="280" width="3" height="60" fill="#ff0000"/>
<rect x="925" y="254" width="1" height="51" fill="#00ff00"/>
<rect x="924" y="280" width="3" height="17" fill="#00ff00"/>
<rect x="929" y="282" width="1" height="36" fill="#ff0000"/>
<rect x="928" y="288" width="3" height="10" fill="#ff0000"/>
<rect x="933" y="279" width="1" height="10" fill="#ff0000"/>
<rect x="932" y="283" width="3" height="6" fill="#ff0000"/>
<rect x="937" y="265" width="1" height="27" fill="#ff0000"/>
<rect x="936" y="267" width="3" height="17" fill="#ff0000"/>
<rect x="941" y="262" width="1" height="25" fill="#00ff00"/>
<rect x="940" y="267" width="3" height="17" fill="#00ff00"/>
<rect x="945" y="284" width="1" height="28" fill="#00ff00"/>
<rect x="944" y="285" width="3" height="7" fill="#00ff00"/>
<rect x="949" y="279" width="1" height="23" fill="#ff0000"/>
<rect x="948" y="288" width="3" height="4" fill="#ff0000"/>
<rect x="953" y="266" width="1" height="33" fill="#00ff00"/>
<rect x="952" y="289" width="3" height="6" fill="#00ff00"/>
<rect x="957" y="284" width="1" height="12" fill="#00ff00"/>
<rect x="956" y="294" width="3" height="2" fill="#00ff00"/>
<rect x="961" y="272" width="1" height="26" fill="#ff0000"/>
<rect x="960" y="272" width="3" height="21" fill="#ff0000"/>
<rect x="965" y="260" width="1" height="33" fill="#00ff00"/>
<rect x="964" y="272" width="3" height="11" fill="#00ff00"/>
<rect x="969" y="273" width="1" height="74" fill="#00ff00"/>
<rect x="968" y="281" width="3" height="52" fill="#00ff00"/>
<rect x="973" y="334" width="1" height="66" fill="#00ff00"/>
<rect x="972" y="335" width="3" height="44" fill="#00ff00"/>
<rect x="977" y="304" width="1" height="86" fill="#ff0000"/>
<rect x="976" y="306" width="3" height="72" fill="#ff0000"/>
<rect x="981" y="305" width="1" height="13" fill="#00ff00"/>
<rect x="980" y="306" width="3" height="11" fill="#00ff00"/>
<rect x="985" y="308" width="1" height="37" fill="#00ff00"/>
<rect x="984" y="316" width="3" height="25" fill="#00ff00"/>
<rect x="989" y="321" width="1" height="24" fill="#ff0000"/>
<rect x="988" y="335" width="3" height="6" fill="#ff0000"/>
<rect x="993" y="329" width="1" height="23" fill="#00ff00"/>
<rect x="992" y="335" width="3" height="16" fill="#00ff00"/>
<rect x="997" y="349" width="1" height="48" fill="#00ff00"/>
<rect x="996" y="349" width="3" height="22" fill="#00ff00"/>
<rect x="1001" y="362" width="1" height="45" fill="#ff0000"/>
<rect x="1000" y="363" width="3" height="8" fill="#ff0000"/>
<rect x="1005" y="360" width="1" height="20" fill="#00ff00"/>
<rect x="1004" y="363" width="3" height="15" fill="#00ff00"/>
<rect x="1009" y="374" width="1" height="63" fill="#00ff00"/>
<rect x="1008" y="382" width="3" height="24" fill="#00ff00"/>
<rect x="1013" y="376" width="1" height="40" fill="#ff0000"/>
<rect x="1012" y="400" width="3" height="6" fill="#ff0000"/>
<rect x="1017" y="384" width="1" height="54" fill="#00ff00"/>
<rect x="1016" y="400" width="3" height="37" fill="#00ff00"/>
<rect x="1021" y="417" width="1" height="31" fill="#ff0000"/>
<rect x="1020" y="424" width="3" height="14" fill="#ff0000"/>
<rect x="1025" y="380" width="1" height="55" fill="#ff0000"/>
<rect x="1024" y="392" width="3" height="32" fill="#ff0000"/>
<rect x="1029" y="387" width="1" height="11" fill="#ff0000"/>
<rect x="1028" y="390" width="3" height="2" fill="#ff0000"/>
<rect x="1033" y="383" width="1" height="30" fill="#ff0000"/>
<rect x="1032" y="388" width="3" height="23" fill="#ff0000"/>
<rect x="1037" y="385" width="1" height="34" fill="#00ff00"/>
<rect x="1036" y="388" width="3" height="15" fill="#00ff00"/>
<rect x="1041" y="392" width="1" height="13" fill="#ff0000"/>
<rect x="1040" y="395" width="3" height="8" fill="#ff0000"/>
<rect x="1045" y="396" width="1" height="45" fill="#00ff00"/>
<rect x="1044" y="403" width="3" height="30" fill="#00ff00"/>
<rect x="1049" y="416" width="1" height="54" fill="#00ff00"/>
<rect x="1048" y="432" width="3" height="28" fill="#00ff00"/>
<rect x="1053" y="458" width="1" height="24" fill="#00ff00"/>
<rect x="1052" y="459" width="3" height="14" fill="#00ff00"/>
<rect x="1057" y="463" width="1" height="26" fill="#00ff00"/>
<rect x="1056" y="472" width="3" height="16" fill="#00ff00"/>
<rect x="1061" y="476" width="1" height="92" fill="#00ff00"/>
<rect x="1060" y="486" width="3" height="75" fill="#00ff00"/>
<rect x="1065" y="544" width="1" height="32" fill="#ff0000"/>
<rect x="1064" y="547" width="3" height="14" fill="#ff0000"/>
<rect x="1069" y="528" width="1" height="34" fill="#00ff00"/>
<rect x="1068" y="547" width="3" height="7" fill="#00ff00"/>
<rect x="1073" y="530" width="1" height="39" fill="#ff0000"/>
<rect x="1072" y="550" width="3" height="4" fill="#ff0000"/>
<rect x="1077" y="539" width="1" height="17" fill="#ff0000"/>
<rect x="1076" y="546" width="3" height="5" fill="#ff0000"/>
<rect x="1081" y="543" width="1" height="23" fill="#00ff00"/>
<rect x="1080" y="547" width="3" height="11" fill="#00ff00"/>
<rect x="1085" y="509" width="1" height="62" fill="#ff0000"/>
<rect x="1084" y="520" width="3" height="37" fill="#ff0000"/>
<rect x="1089" y="501" width="1" height="55" fill="#ff0000"/>
<rect x="1088" y="504" width="3" height="18" fill="#ff0000"/>
<rect x="1093" y="445" width="1" height="61" fill="#ff0000"/>
<rect x="1092" y="450" width="3" height="56" fill="#ff0000"/>
<rect x="1097" y="450" width="1" height="59" fill="#00ff00"/>
<rect x="1096" y="452" width="3" height="40" fill="#00ff00"/>
<rect x="1101" y="483" width="1" height="17" fill="#ff0000"/>
<rect x="1100" y="484" width="3" height="6" fill="#ff0000"/>
<rect x="1105" y="477" width="1" height="32" fill="#00ff00"/>
<rect x="1104" y="488" width="3" height="3" fill="#00ff00"/>
<rect x="1109" y="467" width="1" height="29" fill="#ff0000"/>
<rect x="1108" y="477" width="3" height="14" fill="#ff0000"/>
<rect x="1113" y="469" width="1" height="27" fill="#00ff00"/>
<rect x="1112" y="477" width="3" height="18" fill="#00ff00"/>
<rect x="1117" y="486" width="1" height="21" fill="#00ff00"/>
<rect x="1116" y="494" width="3" height="3" fill="#00ff00"/>
<rect x="1121" y="477" width="1" height="29" fill="#ff0000"/>
<rect x="1120" y="485" width="3" height="13" fill="#ff0000"/>
<rect x="1125" y="470" width="1" height="17" fill="#ff0000"/>
<rect x="1124" y="479" width="3" height="7" fill="#ff0000"/>
<rect x="1129" y="473" width="1" height="15" fill="#00ff00"/>
<rect x="1128" y="481" width="3" height="5" fill="#00ff00"/>
<rect x="1133" y="468" width="1" height="32" fill="#ff0000"/>
<rect x="1132" y="478" width="3" height="8" fill="#ff0000"/>
<rect x="1137" y="414" width="1" height="90" fill="#ff0000"/>
<rect x="1136" y="433" width="3" height="49" fill="#ff0000"/>
<rect x="1141" y="388" width="1" height="60" fill="#ff0000"/>
<rect x="1140" y="408" width="3" height="26" fill="#ff0000"/>
<rect x="1145" y="402" width="1" height="33" fill="#00ff00"/>
<rect x="1144" y="411" width="3" height="6" fill="#00ff00"/>
<rect x="1149" y="408" width="1" height="10" fill="#ff0000"/>
<rect x="1148" y="414" width="3" height="2" fill="#ff0000"/>
<rect x="1153" y="363" width="1" height="46" fill="#ff0000"/>
<rect x="1152" y="382" width="3" height="26" fill="#ff0000"/>
<rect x="1157" y="358" width="1" height="29" fill="#ff0000"/>
<rect x="1156" y="379" width="3" height="4" fill="#ff0000"/>
<rect x="1161" y="357" width="1" height="42" fill="#ff0000"/>
<rect x="1160" y="358" width="3" height="21" fill="#ff0000"/>
<rect x="1165" y="342" width="1" height="18" fill="#ff0000"/>
<rect x="1164" y="343" width="3" height="16" fill="#ff0000"/>
<rect x="1169" y="325" width="1" height="48" fill="#ff0000"/>
<rect x="1168" y="341" width="3" height="2" fill="#ff0000"/>
<rect x="1173" y="320" width="1" height="29" fill="#ff0000"/>
<rect x="1172" y="335" width="3" height="7" fill="#ff0000"/>
<rect x="1177" y="303" width="1" height="32" fill="#ff0000"/>
<rect x="1176" y="309" width="3" height="25" fill="#ff0000"/>
<rect x="1181" y="277" width="1" height="34" fill="#ff0000"/>
<rect x="1180" y="295" width="3" height="15" fill="#ff0000"/>
<rect x="1185" y="277" width="1" height="32" fill="#ff0000"/>
<rect x="1184" y="284" width="3" height="12" fill="#ff0000"/>
<rect x="1189" y="270" width="1" height="29" fill="#ff0000"/>
<rect x="1188" y="281" width="3" height="3" fill="#ff0000"/>
<rect x="1193" y="261" width="1" height="35" fill="#ff0000"/>
<rect x="1192" y="275" width="3" height="7" fill="#ff0000"/>
<rect x="1197" y="268" width="1" height="13" fill="#00ff00"/>
<rect x="1196" y="275" width="3" height="5" fill="#00ff00"/>
<rect x="1201" y="253" width="1" height="35" fill="#ff0000"/>
<rect x="1200" y="262" width="3" height="13" fill="#ff0000"/>
<rect x="1205" y="255" width="1" height="43" fill="#00ff00"/>
<rect x="1204" y="261" width="3" height="27" fill="#00ff00"/>
<rect x="1209" y="286" width="1" height="33" fill="#00ff00"/>
<rect x="1208" y="287" width="3" height="25" fill="#00ff00"/>
<rect x="1213" y="304" width="1" height="30" fill="#00ff00"/>
<rect x="1212" y="312" width="3" height="5" fill="#00ff00"/>
<rect x="1217" y="304" width="1" height="30" fill="#ff0000"/>
<rect x="1216" y="314" width="3" height="3" fill="#ff0000"/>
<rect x="1221" y="312" width="1" height="17" fill="#00ff00"/>
<rect x="1220" y="314" width="3" height="6" fill="#00ff00"/>
<rect x="1225" y="320" width="1" height="24" fill="#00ff00"/>
<rect x="1224" y="324" width="3" height="6" fill="#00ff00"/>
<rect x="1229" y="296" width="1" height="46" fill="#ff0000"/>
<rect x="1228" y="316" width="3" height="14" fill="#ff0000"/>
<rect x="1233" y="310" width="1" height="41" fill="#00ff00"/>
<rect x="1232" y="316" width="3" height="16" fill="#00ff00"/>
<rect x="1237" y="307" width="1" height="46" fill="#00ff00"/>
<rect x="1236" y="330" width="3" height="7" fill="#00ff00"/>
<rect x="1241" y="304" width="1" height="48" fill="#00ff00"/>
<rect x="1240" y="338" width="3" height="5" fill="#00ff00"/>
<rect x="1245" y="341" width="1" height="22" fill="#00ff00"/>
<rect x="1244" y="342" width="3" height="14" fill="#00ff00"/>
<rect x="1249" y="271" width="1" height="53" fill="#ff0000"/>
<rect x="1248" y="306" width="3" height="11" fill="#ff0000"/>
<rect x="1253" y="273" width="1" height="35" fill="#ff0000"/>
<rect x="1252" y="290" width="3" height="16" fill="#ff0000"/>
<rect x="1257" y="271" width="1" height="36" fill="#ff0000"/>
<rect x="1256" y="277" width="3" height="13" fill="#ff0000"/>
<rect x="1261" y="214" width="1" height="66" fill="#ff0000"/>
<rect x="1260" y="229" width="3" height="50" fill="#ff0000"/>
<rect x="1265" y="137" width="1" height="96" fill="#ff0000"/>
<rect x="1264" y="174" width="3" height="56" fill="#ff0000"/>
<rect x="1269" y="154" width="1" height="40" fill="#00ff00"/>
<rect x="1268" y="174" width="3" height="16" fill="#00ff00"/>
<rect x="1273" y="160" width="1" height="106" fill="#00ff00"/>
<rect x="1272" y="163" width="3" height="40" fill="#00ff00"/>
<rect x="1277" y="196" width="1" height="67" fill="#00ff00"/>
<rect x="1276" y="203" width="3" height="44" fill="#00ff00"/>
<rect x="1281" y="200" width="1" height="54" fill="#ff0000"/>
<rect x="1280" y="227" width="3" height="20" fill="#ff0000"/>
</g>
<polyline points="5.2,384.0 9.5,390.0 13.0,393.8 17.4,373.0 21.5,354.4 25.5,333.1 29.5,298.7 33.5,254.6 37.5,222.2 41.5,198.8 45.5,183.7 49.5,171.1 53.5,178.4 57.5,198.6 61.5,219.6 65.5,232.2 69.5,244.3 73.5,250.6 77.5,254.8 81.5,252.5 85.5,246.7 89.5,236.3 93.5,224.2 97.5,202.6 101.5,192.3 105.5,181.3 109.5,178.5 113.5,187.7 117.5,199.1 121.5,206.4 125.5,219.7 129.5,238.5 133.5,239.1 137.5,233.0 141.5,225.6 145.5,232.8 149.5,231.6 153.5,237.4 157.5,239.1 161.5,248.7 165.5,245.4 169.5,236.4 173.5,232.0 177.5,237.6 181.5,230.6 185.5,224.3 189.5,222.5 193.5,221.4 197.5,208.5 201.5,192.8 205.5,171.4 209.5,158.6 213.5,140.1 217.5,135.7 221.5,142.5 225.5,156.0 229.5,154.2 233.5,159.9 237.5,163.4 241.5,160.2 245.5,150.6 249.5,152.3 253.5,141.7 257.5,141.4 261.5,145.2 265.5,146.3 269.5,145.1 273.5,155.1 277.5,154.3 281.5,144.9 285.5,149.1 289.5,154.8 293.5,155.9 297.5,159.0 301.5,160.0 305.5,158.1 309.5,155.8 313.5,153.6 317.5,143.7 321.5,132.9 325.5,123.7 329.5,110.3 333.5,96.3 337.5,96.6 341.5,116.6 345.5,133.4 349.5,159.2 353.5,199.3 357.5,233.8 361.5,260.8 365.5,280.9 369.5,293.7 373.5,286.0 377.5,266.8 381.5,239.8 385.5,221.6 389.5,205.1 393.5,199.7 397.5,229.6 401.5,263.9 405.5,296.5 409.5,330.3 413.5,364.4 417.5,381.4 421.5,398.9 425.5,418.9 429.5,438.9 433.5,445.5 437.5,444.2 441.5,452.2 445.5,458.6 449.5,453.9 453.5,461.0 457.5,465.6 461.5,456.3 465.5,448.7 469.5,455.0 473.5,462.3 477.5,472.2 481.5,487.0 485.5,496.3 489.5,501.5 493.5,493.0 497.5,484.4 501.5,480.4 505.5,468.1 509.5,451.3 513.5,443.9 517.5,433.0 521.5,411.1 525.5,401.4 529.5,399.3 533.5,393.2 537.5,393.8 541.5,390.8 545.5,383.0 549.5,373.0 553.5,368.6 557.5,349.5 561.5,327.9 565.5,322.8 569.5,319.8 573.5,317.5 577.5,321.1 581.5,340.1 585.5,327.9 589.5,311.3 593.5,299.4 597.5,293.2 601.5,278.5 605.5,276.4 609.5,284.5 613.5,281.5 617.5,272.7 621.5,274.6 625.5,282.8 629.5,283.4 633.5,282.7 637.5,286.6 641.5,287.6 645.5,280.9 649.5,272.8 653.5,267.3 657.5,275.9 661.5,284.7 665.5,311.0 669.5,335.8 673.5,369.0 677.5,387.3 681.5,393.9 685.5,387.1 689.5,371.1 693.5,346.5 697.5,329.2 701.5,320.8 705.5,307.7 709.5,309.3 713.5,311.6 717.5,305.3 721.5,301.4 725.5,307.1 729.5,303.6 733.5,303.2 737.5,307.8 741.5,312.5 745.5,313.9 749.5,322.1 753.5,314.8 757.5,302.4 761.5,287.3 765.5,273.6 769.5,261.1 773.5,257.9 777.5,257.3 781.5,267.2 785.5,291.6 789.5,312.6 793.5,330.6 797.5,352.6 801.5,367.0 805.5,374.8 809.5,383.2 813.5,401.5 817.5,418.5 821.5,436.5 825.5,444.4 829.5,453.8 833.5,463.8 837.5,470.3 841.5,474.0 845.5,476.0 849.5,458.4 853.5,445.1 857.5,430.4 861.5,416.3 865.5,405.4 869.5,409.2 873.5,403.0 877.5,398.2 881.5,386.4 885.5,371.8 889.5,362.4 893.5,353.1 897.5,341.0 901.5,334.3 905.5,335.5 909.5,332.0 913.5,335.2 917.5,338.0 921.5,330.6 925.5,320.8 929.5,311.4 933.5,297.4 937.5,282.9 941.5,283.5 945.5,282.6 949.5,282.6 953.5,285.0 957.5,290.9 961.5,288.6 965.5,286.7 969.5,295.6 973.5,312.5 977.5,314.6 981.5,323.5 985.5,335.2 989.5,335.7 993.5,330.0 997.5,342.9 1001.5,352.2 1005.5,359.6 1009.5,373.7 1013.5,383.7 1017.5,397.0 1021.5,409.1 1025.5,412.0 1029.5,408.7 1033.5,406.2 1037.5,399.3 1041.5,393.5 1045.5,401.7 1049.5,415.7 1053.5,432.8 1057.5,449.8 1061.5,483.0 1065.5,505.8 1069.5,524.6 1073.5,540.0 1077.5,551.5 1081.5,551.0 1085.5,545.7 1089.5,535.7 1093.5,515.7 1097.5,504.9 1101.5,490.2 1105.5,484.3 1109.5,479.0 1113.5,487.9 1117.5,489.0 1121.5,489.1 1125.5,486.8 1129.5,488.5 1133.5,485.2 1137.5,472.3 1141.5,456.8 1145.5,444.3 1149.5,429.8 1153.5,410.5 1157.5,399.8 1161.5,389.9 1165.5,375.1 1169.5,360.6 1173.5,351.2 1177.5,337.3 1181.5,324.6 1185.5,312.8 1189.5,300.9 1193.5,288.9 1197.5,282.9 1201.5,276.3 1205.5,277.1 1209.5,283.2 1213.5,291.6 1217.5,298.5 1221.5,310.0 1225.5,318.5 1229.5,319.4 1233.5,322.3 1237.5,326.9 1241.5,331.5 1245.5,336.7 1249.5,334.7 1253.5,326.3 1257.5,314.4 1261.5,291.6 1265.5,255.2 1269.5,232.0 1273.5,214.5 1277.5,208.4 1281.5,208.1" fill="none" stroke="#ffa500" stroke-width="1" shape-rendering="crispEdges" stroke-linejoin="round" />
<polyline points="5.3,333.8 9.0,345.0 13.8,355.1 17.0,356.2 23.0,354.0 29.8,348.7 35.0,332.0 40.4,312.6 45.0,298.0 51.0,276.4 57.5,257.1 61.5,249.9 65.5,238.0 69.5,226.9 73.5,221.0 77.5,221.5 81.5,221.1 85.5,219.5 89.5,220.4 93.5,221.7 97.5,222.9 101.5,224.2 105.5,223.1 109.5,220.4 113.5,217.8 117.5,215.6 121.5,215.0 125.5,214.3 129.5,216.1 133.5,212.2 137.5,208.6 141.5,207.4 145.5,213.1 149.5,218.8 153.5,224.7 157.5,225.3 161.5,231.5 165.5,237.0 169.5,236.2 173.5,236.4 177.5,236.4 181.5,235.3 185.5,231.9 189.5,230.2 193.5,232.3 197.5,230.3 201.5,221.1 205.5,210.4 209.5,202.1 213.5,196.9 217.5,190.0 221.5,184.3 225.5,181.7 229.5,174.3 233.5,169.2 237.5,166.0 241.5,161.4 245.5,156.0 249.5,149.6 253.5,145.3 257.5,147.6 261.5,152.1 265.5,151.6 269.5,151.4 273.5,152.3 277.5,151.9 281.5,148.1 285.5,149.8 289.5,149.5 293.5,149.6 297.5,151.4 301.5,151.5 305.5,151.8 309.5,154.6 313.5,154.0 317.5,150.9 321.5,146.7 325.5,144.2 329.5,138.6 333.5,133.3 337.5,133.6 341.5,135.1 345.5,136.6 349.5,139.8 353.5,147.7 357.5,159.9 361.5,171.8 365.5,181.2 369.5,189.8 373.5,198.5 377.5,207.8 381.5,213.2 385.5,221.0 389.5,228.6 393.5,235.3 397.5,248.1 401.5,259.8 405.5,270.0 409.5,275.4 413.5,282.0 417.5,291.2 421.5,302.0 425.5,314.7 429.5,330.0 433.5,345.8 437.5,364.2 441.5,384.4 445.5,405.2 449.5,420.8 453.5,428.4 457.5,436.3 461.5,441.4 465.5,447.6 469.5,453.2 473.5,457.3 477.5,462.5 481.5,465.8 485.5,468.0 489.5,473.2 493.5,474.7 497.5,474.0 501.5,473.5 505.5,473.1 509.5,469.7 513.5,467.0 517.5,465.6 521.5,460.1 525.5,454.0 529.5,447.2 533.5,438.8 537.5,432.4 541.5,422.4 545.5,411.6 549.5,404.4 553.5,397.4 557.5,385.6 561.5,372.4 565.5,365.7 569.5,360.1 573.5,356.1 577.5,353.4 581.5,350.5 585.5,340.2 589.5,330.8 593.5,322.4 597.5,318.6 601.5,313.2 605.5,305.7 609.5,300.8 613.5,298.1 617.5,298.8 621.5,296.0 625.5,292.5 629.5,288.6 633.5,284.4 637.5,279.8 641.5,281.6 645.5,281.6 649.5,279.1 653.5,275.2 657.5,278.8 661.5,284.5 665.5,291.1 669.5,298.5 673.5,309.6 677.5,319.1 681.5,324.2 685.5,328.1 689.5,330.1 693.5,331.0 697.5,333.9 701.5,338.4 705.5,340.6 709.5,345.1 713.5,343.7 717.5,341.3 721.5,335.0 725.5,330.3 729.5,321.7 733.5,313.7 737.5,310.6 741.5,308.4 745.5,309.9 749.5,313.0 753.5,308.6 757.5,304.0 761.5,301.1 765.5,297.2 769.5,295.0 773.5,291.6 777.5,288.3 781.5,286.9 785.5,292.9 789.5,298.3 793.5,299.7 797.5,302.6 801.5,305.8 805.5,311.7 809.5,322.8 813.5,335.1 817.5,349.4 821.5,364.0 825.5,377.2 829.5,392.7 833.5,408.9 837.5,422.0 841.5,429.1 845.5,435.5 849.5,438.4 853.5,441.9 857.5,444.6 861.5,444.0 865.5,443.4 869.5,441.1 873.5,436.4 877.5,430.9 881.5,423.3 885.5,414.1 889.5,404.9 893.5,394.5 897.5,383.4 901.5,372.6 905.5,370.2 909.5,364.5 913.5,360.5 917.5,355.4 921.5,346.0 925.5,338.6 929.5,331.8 933.5,324.5 937.5,318.5 941.5,314.4 945.5,310.1 949.5,306.6 953.5,304.5 957.5,303.0 961.5,297.7 965.5,294.0 969.5,292.5 973.5,295.4 977.5,297.2 981.5,298.6 985.5,302.4 989.5,306.2 993.5,312.2 997.5,318.5 1001.5,323.5 1005.5,330.0 1009.5,337.9 1013.5,345.4 1017.5,357.2 1021.5,367.3 1025.5,371.5 1029.5,372.2 1033.5,378.1 1037.5,384.3 1041.5,388.1 1045.5,395.1 1049.5,402.9 1053.5,410.2 1057.5,419.1 1061.5,432.2 1065.5,442.2 1069.5,453.2 1073.5,461.2 1077.5,470.0 1081.5,481.8 1085.5,491.2 1089.5,499.4 1093.5,502.8 1097.5,509.7 1101.5,513.4 1105.5,515.6 1109.5,515.9 1113.5,516.4 1117.5,511.9 1121.5,507.5 1125.5,502.2 1129.5,497.6 1133.5,492.7 1137.5,483.8 1141.5,475.7 1145.5,469.5 1149.5,466.9 1153.5,459.0 1157.5,451.5 1161.5,442.0 1165.5,432.4 1169.5,421.4 1173.5,409.8 1177.5,397.2 1181.5,384.1 1185.5,369.7 1189.5,355.6 1193.5,344.3 1197.5,335.2 1201.5,324.1 1205.5,315.1 1209.5,310.1 1213.5,305.7 1217.5,302.5 1221.5,300.8 1225.5,300.1 1229.5,298.7 1233.5,300.3 1237.5,303.3 1241.5,307.5 1245.5,312.9 1249.5,315.1 1253.5,315.9 1257.5,316.9 1261.5,312.7 1265.5,302.9 1269.5,293.8 1273.5,285.9 1277.5,280.6 1281.5,273.3" fill="none" stroke="#ff0000" stroke-width="1" shape-rendering="crispEdges" stroke-linejoin="round" />
<polyline points="5.3,343.4 9.0,350.0 13.8,355.1 17.0,356.5 23.0,354.5 29.8,349.8 35.0,339.0 40.4,327.4 45.0,317.0 50.0,306.2 57.4,296.6 65.0,293.0 74.5,290.2 85.0,284.9 92.0,278.0 100.0,268.9 106.0,259.0 112.8,249.8 118.0,243.0 121.5,237.3 125.5,232.8 129.5,227.9 133.5,222.4 137.5,218.4 141.5,215.9 145.5,216.1 149.5,216.7 153.5,219.6 157.5,221.2 161.5,224.2 165.5,226.3 169.5,227.6 173.5,228.5 177.5,227.7 181.5,226.0 185.5,225.0 189.5,224.0 193.5,223.6 197.5,220.0 201.5,216.1 205.5,212.5 209.5,211.0 213.5,209.6 217.5,208.8 221.5,207.7 225.5,208.3 229.5,207.0 233.5,205.0 237.5,202.9 241.5,200.0 245.5,196.7 249.5,192.6 253.5,188.8 257.5,187.6 261.5,186.7 265.5,182.3 269.5,178.2 273.5,175.1 277.5,173.5 281.5,169.4 285.5,166.3 289.5,164.6 293.5,162.4 297.5,160.4 301.5,157.6 305.5,155.2 309.5,153.5 313.5,151.1 317.5,149.6 321.5,147.6 325.5,147.3 329.5,145.4 333.5,143.8 337.5,143.1 341.5,143.3 345.5,143.5 349.5,146.3 353.5,150.3 357.5,154.8 361.5,160.1 365.5,165.2 369.5,169.8 373.5,174.4 377.5,175.7 381.5,175.8 385.5,177.8 389.5,179.8 393.5,181.8 397.5,188.2 401.5,195.7 405.5,202.4 409.5,209.1 413.5,216.6 417.5,225.3 421.5,235.5 425.5,245.8 429.5,256.2 433.5,265.2 437.5,275.4 441.5,288.7 445.5,301.6 449.5,313.5 453.5,326.0 457.5,336.9 461.5,345.3 465.5,354.2 469.5,362.8 473.5,369.8 477.5,376.6 481.5,383.0 485.5,390.1 489.5,397.5 493.5,404.3 497.5,412.9 501.5,423.1 505.5,431.2 509.5,438.5 513.5,445.0 517.5,446.8 521.5,447.7 525.5,448.7 529.5,450.0 533.5,449.8 537.5,448.9 541.5,446.3 545.5,442.7 549.5,439.0 553.5,437.0 557.5,433.1 561.5,425.6 565.5,420.0 569.5,416.7 573.5,413.1 577.5,409.0 581.5,406.2 585.5,399.9 589.5,392.7 593.5,385.9 597.5,379.2 601.5,371.5 605.5,363.3 609.5,356.5 613.5,350.7 617.5,343.9 621.5,337.2 625.5,332.4 629.5,328.5 633.5,323.8 637.5,319.5 641.5,316.6 645.5,312.3 649.5,307.5 653.5,302.8 657.5,299.8 661.5,298.9 665.5,300.3 669.5,301.3 673.5,302.9 677.5,306.1 681.5,309.9 685.5,311.0 689.5,309.8 693.5,307.7 697.5,307.5 701.5,306.7 705.5,307.7 709.5,309.5 713.5,309.8 717.5,309.5 721.5,310.5 725.5,312.8 729.5,312.7 733.5,313.4 737.5,315.4 741.5,316.8 745.5,318.0 749.5,319.1 753.5,318.7 757.5,318.0 761.5,316.8 765.5,316.7 769.5,317.2 773.5,317.2 777.5,314.9 781.5,313.9 785.5,313.5 789.5,313.3 793.5,310.8 797.5,309.1 801.5,309.4 805.5,311.5 809.5,315.3 813.5,319.9 817.5,324.0 821.5,328.7 825.5,334.2 829.5,339.4 833.5,345.3 837.5,351.5 841.5,357.4 845.5,362.4 849.5,365.2 853.5,368.9 857.5,371.9 861.5,374.7 865.5,377.6 869.5,379.7 873.5,383.6 877.5,387.9 881.5,391.2 885.5,394.0 889.5,396.6 893.5,399.5 897.5,401.8 901.5,402.4 905.5,401.3 909.5,399.8 913.5,400.3 917.5,399.4 921.5,396.3 925.5,392.3 929.5,387.9 933.5,382.9 937.5,376.8 941.5,370.9 945.5,365.3 949.5,359.3 953.5,353.1 957.5,346.9 961.5,340.0 965.5,333.8 969.5,332.2 973.5,331.0 977.5,327.6 981.5,324.5 985.5,322.1 989.5,319.9 993.5,318.9 997.5,318.4 1001.5,318.8 1005.5,320.0 1009.5,321.8 1013.5,324.0 1017.5,327.7 1021.5,331.3 1025.5,332.8 1029.5,334.6 1033.5,335.8 1037.5,337.9 1041.5,341.8 1045.5,346.3 1049.5,352.0 1053.5,358.4 1057.5,365.8 1061.5,375.0 1065.5,383.5 1069.5,392.3 1073.5,400.9 1077.5,409.2 1081.5,418.7 1085.5,426.7 1089.5,432.4 1093.5,434.7 1097.5,440.9 1101.5,446.5 1105.5,451.5 1109.5,456.2 1113.5,461.0 1117.5,465.3 1121.5,469.3 1125.5,472.7 1129.5,475.4 1133.5,478.0 1137.5,477.8 1141.5,477.3 1145.5,478.1 1149.5,478.9 1153.5,478.7 1157.5,477.9 1161.5,476.7 1165.5,473.7 1169.5,469.7 1173.5,465.1 1177.5,459.1 1181.5,450.3 1185.5,441.5 1189.5,432.4 1193.5,423.2 1197.5,414.4 1201.5,404.5 1205.5,396.7 1209.5,390.3 1213.5,385.9 1217.5,380.0 1221.5,374.5 1225.5,369.1 1229.5,363.7 1233.5,358.3 1237.5,352.9 1241.5,348.2 1245.5,344.1 1249.5,338.1 1253.5,331.8 1257.5,326.6 1261.5,320.7 1265.5,312.6 1269.5,305.1 1273.5,299.1 1277.5,294.7 1281.5,290.4" fill="none" stroke="#0000cd" stroke-width="1" shape-rendering="crispEdges" stroke-linejoin="round" />
<rect x="5" y="53" width="1607" height="2" fill="#ff0000"/>
<rect x="1614" y="48" width="38" height="11" fill="#ff0000"/>
<text x="1617.7" y="57.0" font-size="9.2" fill="#fff">1.35606</text>
<rect x="5" y="173" width="1607" height="2" fill="#ff0000"/>
<rect x="1614" y="168" width="38" height="11" fill="#ff0000"/>
<text x="1617.7" y="177.0" font-size="9.2" fill="#fff">1.34206</text>
<rect x="5" y="275" width="1607" height="2" fill="#00ff00"/>
<rect x="1614" y="270" width="38" height="11" fill="#00ff00"/>
<text x="1617.7" y="279.0" font-size="9.2" fill="#fff">1.33011</text>
<rect x="5" y="413" width="1607" height="2" fill="#0000ff"/>
<rect x="1614" y="408" width="38" height="11" fill="#0000ff"/>
<text x="1617.7" y="417.0" font-size="9.2" fill="#fff">1.31405</text>
<rect x="5" y="520" width="1607" height="2" fill="#0000ff"/>
<rect x="1614" y="515" width="38" height="11" fill="#0000ff"/>
<text x="1617.7" y="524.0" font-size="9.2" fill="#fff">1.30152</text>
<rect x="1614" y="222" width="38" height="11" fill="#000"/>
<text x="1617.7" y="231" font-size="9.2" fill="#fff">1.33581</text>
<path d="M6,624.5 H1612 M6,665.5 H1612" stroke="#c0c0c0" stroke-dasharray="3,3"/>
<polyline points="5.5,647.7 9.5,652.7 13.5,650.2 17.5,641.8 21.5,637.1 25.5,635.6 29.5,633.8 33.5,628.3 37.5,627.5 41.5,627.3 45.5,631.2 49.5,630.6 53.5,635.8 57.5,643.3 61.5,643.5 65.5,641.2 69.5,640.1 73.5,640.6 77.5,647.1 81.5,642.7 85.5,638.1 89.5,634.5 93.5,633.8 97.5,633.3 101.5,638.1 105.5,633.2 109.5,635.0 113.5,643.9 117.5,644.9 121.5,645.7 125.5,644.3 129.5,650.0 133.5,644.0 137.5,640.1 141.5,640.0 145.5,649.8 149.5,649.0 153.5,648.7 157.5,641.1 161.5,647.0 165.5,647.0 169.5,641.7 173.5,645.2 177.5,645.5 181.5,641.5 185.5,642.2 189.5,640.2 193.5,645.0 197.5,636.2 201.5,631.5 205.5,628.8 209.5,634.7 213.5,634.3 217.5,636.8 221.5,640.2 225.5,641.8 229.5,635.1 233.5,641.4 237.5,641.7 241.5,639.3 245.5,635.8 249.5,638.2 253.5,634.2 257.5,644.0 261.5,644.9 265.5,639.1 269.5,639.2 273.5,644.4 277.5,644.2 281.5,638.1 285.5,643.6 289.5,645.0 293.5,646.1 297.5,647.6 301.5,639.2 305.5,642.1 309.5,643.4 313.5,644.6 317.5,639.1 321.5,631.6 325.5,636.4 329.5,634.4 333.5,635.1 337.5,643.3 341.5,650.7 345.5,651.8 349.5,656.0 353.5,663.9 357.5,665.2 361.5,666.0 365.5,660.4 369.5,659.1 373.5,653.7 377.5,646.2 381.5,641.8 385.5,644.5 389.5,644.9 393.5,649.1 397.5,663.3 401.5,662.0 405.5,662.7 409.5,663.5 413.5,666.0 417.5,669.6 421.5,668.4 425.5,670.0 429.5,670.6 433.5,662.6 437.5,663.4 441.5,667.1 445.5,668.2 449.5,658.8 453.5,660.9 457.5,660.0 461.5,654.5 465.5,657.1 469.5,659.6 473.5,662.4 477.5,663.3 481.5,662.3 485.5,660.9 489.5,661.2 493.5,651.5 497.5,652.8 501.5,655.6 505.5,646.1 509.5,642.7 513.5,643.5 517.5,641.7 521.5,635.8 525.5,638.7 529.5,642.3 533.5,639.5 537.5,644.3 541.5,635.7 545.5,634.2 549.5,635.8 553.5,638.3 557.5,631.2 561.5,624.2 565.5,637.0 569.5,639.7 573.5,642.0 577.5,639.4 581.5,641.0 585.5,631.4 589.5,631.0 593.5,637.3 597.5,638.7 601.5,634.9 605.5,632.5 609.5,640.1 613.5,638.0 617.5,635.7 621.5,639.1 625.5,640.7 629.5,642.2 633.5,638.9 637.5,639.4 641.5,640.6 645.5,636.3 649.5,636.7 653.5,635.1 657.5,648.6 661.5,649.7 665.5,657.5 669.5,656.5 673.5,660.2 677.5,659.8 681.5,650.2 685.5,648.8 689.5,640.9 693.5,639.2 697.5,644.9 701.5,644.0 705.5,639.4 709.5,643.1 713.5,641.8 717.5,640.7 721.5,641.7 725.5,644.9 729.5,640.6 733.5,642.1 737.5,645.6 741.5,646.7 745.5,646.7 749.5,648.9 753.5,635.5 757.5,634.3 761.5,633.1 765.5,634.9 769.5,638.8 773.5,634.7 777.5,636.0 781.5,645.9 785.5,658.1 789.5,657.8 793.5,650.2 797.5,653.8 801.5,654.7 805.5,660.5 809.5,660.7 813.5,662.0 817.5,664.2 821.5,665.4 825.5,664.5 829.5,665.7 833.5,667.2 837.5,667.5 841.5,666.5 845.5,662.6 849.5,642.0 853.5,648.0 857.5,647.1 861.5,647.1 865.5,647.8 869.5,644.8 873.5,641.5 877.5,642.0 881.5,635.3 885.5,633.5 889.5,636.7 893.5,633.9 897.5,631.9 901.5,630.5 905.5,638.7 909.5,636.4 913.5,641.1 917.5,638.2 921.5,628.6 925.5,632.8 929.5,631.4 933.5,630.6 937.5,628.2 941.5,633.0 945.5,635.3 949.5,634.5 953.5,636.5 957.5,636.7 961.5,631.9 965.5,635.1 969.5,647.9 973.5,656.3 977.5,642.2 981.5,644.0 985.5,648.1 989.5,647.0 993.5,649.6 997.5,652.9 1001.5,651.2 1005.5,653.6 1009.5,657.9 1013.5,656.5 1017.5,661.7 1021.5,658.4 1025.5,651.3 1029.5,650.8 1033.5,650.4 1037.5,653.2 1041.5,651.2 1045.5,657.7 1049.5,661.6 1053.5,663.3 1057.5,665.2 1061.5,672.4 1065.5,668.8 1069.5,669.5 1073.5,668.4 1077.5,667.2 1081.5,668.6 1085.5,658.2 1089.5,654.3 1093.5,643.6 1097.5,650.4 1101.5,648.9 1105.5,650.0 1109.5,647.3 1113.5,650.4 1117.5,650.8 1121.5,648.1 1125.5,646.8 1129.5,648.2 1133.5,646.4 1137.5,637.0 1141.5,632.8 1145.5,635.1 1149.5,634.6 1153.5,629.4 1157.5,629.0 1161.5,626.0 1165.5,623.9 1169.5,623.6 1173.5,622.8 1177.5,619.5 1181.5,617.8 1185.5,616.6 1189.5,616.3 1193.5,615.6 1197.5,617.6 1201.5,615.4 1205.5,625.6 1209.5,633.6 1213.5,635.1 1217.5,634.5 1221.5,636.4 1225.5,639.9 1229.5,636.4 1233.5,641.4 1237.5,642.9 1241.5,644.9 1245.5,648.9 1249.5,635.7 1253.5,632.4 1257.5,630.0 1261.5,622.8 1265.5,617.1 1269.5,621.6 1273.5,625.1 1277.5,635.9 1281.5,633.1" fill="none" stroke="#1e90ff" stroke-width="1" shape-rendering="crispEdges" stroke-linejoin="round" />
<text x="1615.6" y="603.1" font-size="9.2" fill="#000">100</text>
<text x="1615.6" y="627.9" font-size="9.2" fill="#000">70</text>
<text x="1615.6" y="668.8" font-size="9.2" fill="#000">30</text>
<text x="1615.6" y="692.9" font-size="9.2" fill="#000">0</text>
<rect x="5" y="742" width="1" height="14" fill="#c0c0c0"/>
<rect x="9" y="742" width="1" height="17" fill="#c0c0c0"/>
<rect x="13" y="742" width="1" height="17" fill="#c0c0c0"/>
<rect x="17" y="742" width="1" height="13" fill="#c0c0c0"/>
<rect x="21" y="742" width="1" height="7" fill="#c0c0c0"/>
<rect x="25" y="742" width="1" height="1" fill="#c0c0c0"/>
<rect x="29" y="738" width="1" height="5" fill="#c0c0c0"/>
<rect x="33" y="729" width="1" height="14" fill="#c0c0c0"/>
<rect x="37" y="722" width="1" height="21" fill="#c0c0c0"/>
<rect x="41" y="716" width="1" height="27" fill="#c0c0c0"/>
<rect x="45" y="713" width="1" height="30" fill="#c0c0c0"/>
<rect x="49" y="711" width="1" height="32" fill="#c0c0c0"/>
<rect x="53" y="712" width="1" height="31" fill="#c0c0c0"/>
<rect x="57" y="716" width="1" height="27" fill="#c0c0c0"/>
<rect x="61" y="720" width="1" height="23" fill="#c0c0c0"/>
<rect x="65" y="722" width="1" height="21" fill="#c0c0c0"/>
<rect x="69" y="723" width="1" height="20" fill="#c0c0c0"/>
<rect x="73" y="724" width="1" height="19" fill="#c0c0c0"/>
<rect x="77" y="728" width="1" height="15" fill="#c0c0c0"/>
<rect x="81" y="730" width="1" height="13" fill="#c0c0c0"/>
<rect x="85" y="729" width="1" height="14" fill="#c0c0c0"/>
<rect x="89" y="726" width="1" height="17" fill="#c0c0c0"/>
<rect x="93" y="724" width="1" height="19" fill="#c0c0c0"/>
<rect x="97" y="722" width="1" height="21" fill="#c0c0c0"/>
<rect x="101" y="723" width="1" height="20" fill="#c0c0c0"/>
<rect x="105" y="721" width="1" height="22" fill="#c0c0c0"/>
<rect x="109" y="720" width="1" height="23" fill="#c0c0c0"/>
<rect x="113" y="724" width="1" height="19" fill="#c0c0c0"/>
<rect x="117" y="727" width="1" height="16" fill="#c0c0c0"/>
<rect x="121" y="729" width="1" height="14" fill="#c0c0c0"/>
<rect x="125" y="731" width="1" height="12" fill="#c0c0c0"/>
<rect x="129" y="735" width="1" height="8" fill="#c0c0c0"/>
<rect x="133" y="736" width="1" height="7" fill="#c0c0c0"/>
<rect x="137" y="735" width="1" height="8" fill="#c0c0c0"/>
<rect x="141" y="734" width="1" height="9" fill="#c0c0c0"/>
<rect x="145" y="738" width="1" height="5" fill="#c0c0c0"/>
<rect x="149" y="740" width="1" height="3" fill="#c0c0c0"/>
<rect x="153" y="742" width="1" height="1" fill="#c0c0c0"/>
<rect x="157" y="741" width="1" height="2" fill="#c0c0c0"/>
<rect x="161" y="742" width="1" height="1" fill="#c0c0c0"/>
<rect x="169" y="742" width="1" height="1" fill="#c0c0c0"/>
<rect x="173" y="742" width="1" height="1" fill="#c0c0c0"/>
<rect x="177" y="742" width="1" height="1" fill="#c0c0c0"/>
<rect x="181" y="741" width="1" height="2" fill="#c0c0c0"/>
<rect x="185" y="740" width="1" height="3" fill="#c0c0c0"/>
<rect x="189" y="739" width="1" height="4" fill="#c0c0c0"/>
<rect x="193" y="740" width="1" height="3" fill="#c0c0c0"/>
<rect x="197" y="737" width="1" height="6" fill="#c0c0c0"/>
<rect x="201" y="732" width="1" height="11" fill="#c0c0c0"/>
<rect x="205" y="727" width="1" height="16" fill="#c0c0c0"/>
<rect x="209" y="725" width="1" height="18" fill="#c0c0c0"/>
<rect x="213" y="724" width="1" height="19" fill="#c0c0c0"/>
<rect x="217" y="724" width="1" height="19" fill="#c0c0c0"/>
<rect x="221" y="725" width="1" height="18" fill="#c0c0c0"/>
<rect x="225" y="726" width="1" height="17" fill="#c0c0c0"/>
<rect x="229" y="725" width="1" height="18" fill="#c0c0c0"/>
<rect x="233" y="727" width="1" height="16" fill="#c0c0c0"/>
<rect x="237" y="728" width="1" height="15" fill="#c0c0c0"/>
<rect x="241" y="728" width="1" height="15" fill="#c0c0c0"/>
<rect x="245" y="727" width="1" height="16" fill="#c0c0c0"/>
<rect x="249" y="727" width="1" height="16" fill="#c0c0c0"/>
<rect x="253" y="726" width="1" height="17" fill="#c0c0c0"/>
<rect x="257" y="728" width="1" height="15" fill="#c0c0c0"/>
<rect x="261" y="730" width="1" height="13" fill="#c0c0c0"/>
<rect x="265" y="730" width="1" height="13" fill="#c0c0c0"/>
<rect x="269" y="730" width="1" height="13" fill="#c0c0c0"/>
<rect x="273" y="732" width="1" height="11" fill="#c0c0c0"/>
<rect x="277" y="733" width="1" height="10" fill="#c0c0c0"/>
<rect x="281" y="732" width="1" height="11" fill="#c0c0c0"/>
<rect x="285" y="733" width="1" height="10" fill="#c0c0c0"/>
<rect x="289" y="735" width="1" height="8" fill="#c0c0c0"/>
<rect x="293" y="736" width="1" height="7" fill="#c0c0c0"/>
<rect x="297" y="738" width="1" height="5" fill="#c0c0c0"/>
<rect x="301" y="737" width="1" height="6" fill="#c0c0c0"/>
<rect x="305" y="737" width="1" height="6" fill="#c0c0c0"/>
<rect x="309" y="737" width="1" height="6" fill="#c0c0c0"/>
<rect x="313" y="738" width="1" height="5" fill="#c0c0c0"/>
<rect x="317" y="737" width="1" height="6" fill="#c0c0c0"/>
<rect x="321" y="733" width="1" height="10" fill="#c0c0c0"/>
<rect x="325" y="731" width="1" height="12" fill="#c0c0c0"/>
<rect x="329" y="729" width="1" height="14" fill="#c0c0c0"/>
<rect x="333" y="728" width="1" height="15" fill="#c0c0c0"/>
<rect x="337" y="729" width="1" height="14" fill="#c0c0c0"/>
<rect x="341" y="734" width="1" height="9" fill="#c0c0c0"/>
<rect x="345" y="738" width="1" height="5" fill="#c0c0c0"/>
<rect x="353" y="742" width="1" height="8" fill="#c0c0c0"/>
<rect x="357" y="742" width="1" height="16" fill="#c0c0c0"/>
<rect x="361" y="742" width="1" height="22" fill="#c0c0c0"/>
<rect x="365" y="742" width="1" height="25" fill="#c0c0c0"/>
<rect x="369" y="742" width="1" height="26" fill="#c0c0c0"/>
<rect x="373" y="742" width="1" height="26" fill="#c0c0c0"/>
<rect x="377" y="742" width="1" height="22" fill="#c0c0c0"/>
<rect x="381" y="742" width="1" height="17" fill="#c0c0c0"/>
<rect x="385" y="742" width="1" height="14" fill="#c0c0c0"/>
<rect x="389" y="742" width="1" height="12" fill="#c0c0c0"/>
<rect x="393" y="742" width="1" height="11" fill="#c0c0c0"/>
<rect x="397" y="742" width="1" height="19" fill="#c0c0c0"/>
<rect x="401" y="742" width="1" height="25" fill="#c0c0c0"/>
<rect x="405" y="742" width="1" height="29" fill="#c0c0c0"/>
<rect x="409" y="742" width="1" height="33" fill="#c0c0c0"/>
<rect x="413" y="742" width="1" height="37" fill="#c0c0c0"/>
<rect x="417" y="742" width="1" height="43" fill="#c0c0c0"/>
<rect x="421" y="742" width="1" height="46" fill="#c0c0c0"/>
<rect x="425" y="742" width="1" height="50" fill="#c0c0c0"/>
<rect x="429" y="742" width="1" height="53" fill="#c0c0c0"/>
<rect x="433" y="742" width="1" height="52" fill="#c0c0c0"/>
<rect x="437" y="742" width="1" height="51" fill="#c0c0c0"/>
<rect x="441" y="742" width="1" height="53" fill="#c0c0c0"/>
<rect x="445" y="742" width="1" height="54" fill="#c0c0c0"/>
<rect x="449" y="742" width="1" height="51" fill="#c0c0c0"/>
<rect x="453" y="742" width="1" height="50" fill="#c0c0c0"/>
<rect x="457" y="742" width="1" height="48" fill="#c0c0c0"/>
<rect x="461" y="742" width="1" height="44" fill="#c0c0c0"/>
<rect x="465" y="742" width="1" height="42" fill="#c0c0c0"/>
<rect x="469" y="742" width="1" height="41" fill="#c0c0c0"/>
<rect x="473" y="742" width="1" height="42" fill="#c0c0c0"/>
<rect x="477" y="742" width="1" height="42" fill="#c0c0c0"/>
<rect x="481" y="742" width="1" height="42" fill="#c0c0c0"/>
<rect x="485" y="742" width="1" height="41" fill="#c0c0c0"/>
<rect x="489" y="742" width="1" height="39" fill="#c0c0c0"/>
<rect x="493" y="742" width="1" height="35" fill="#c0c0c0"/>
<rect x="497" y="742" width="1" height="32" fill="#c0c0c0"/>
<rect x="501" y="742" width="1" height="31" fill="#c0c0c0"/>
<rect x="505" y="742" width="1" height="26" fill="#c0c0c0"/>
<rect x="509" y="742" width="1" height="21" fill="#c0c0c0"/>
<rect x="513" y="742" width="1" height="17" fill="#c0c0c0"/>
<rect x="517" y="742" width="1" height="13" fill="#c0c0c0"/>
<rect x="521" y="742" width="1" height="8" fill="#c0c0c0"/>
<rect x="525" y="742" width="1" height="4" fill="#c0c0c0"/>
<rect x="529" y="742" width="1" height="2" fill="#c0c0c0"/>
<rect x="541" y="739" width="1" height="4" fill="#c0c0c0"/>
<rect x="545" y="736" width="1" height="7" fill="#c0c0c0"/>
<rect x="549" y="733" width="1" height="10" fill="#c0c0c0"/>
<rect x="553" y="732" width="1" height="11" fill="#c0c0c0"/>
<rect x="557" y="729" width="1" height="14" fill="#c0c0c0"/>
<rect x="561" y="722" width="1" height="21" fill="#c0c0c0"/>
<rect x="565" y="721" width="1" height="22" fill="#c0c0c0"/>
<rect x="569" y="722" width="1" height="21" fill="#c0c0c0"/>
<rect x="573" y="724" width="1" height="19" fill="#c0c0c0"/>
<rect x="577" y="724" width="1" height="19" fill="#c0c0c0"/>
<rect x="581" y="726" width="1" height="17" fill="#c0c0c0"/>
<rect x="585" y="722" width="1" height="21" fill="#c0c0c0"/>
<rect x="589" y="718" width="1" height="25" fill="#c0c0c0"/>
<rect x="593" y="718" width="1" height="25" fill="#c0c0c0"/>
<rect x="597" y="719" width="1" height="24" fill="#c0c0c0"/>
<rect x="601" y="718" width="1" height="25" fill="#c0c0c0"/>
<rect x="605" y="717" width="1" height="26" fill="#c0c0c0"/>
<rect x="609" y="718" width="1" height="25" fill="#c0c0c0"/>
<rect x="613" y="719" width="1" height="24" fill="#c0c0c0"/>
<rect x="617" y="718" width="1" height="25" fill="#c0c0c0"/>
<rect x="621" y="720" width="1" height="23" fill="#c0c0c0"/>
<rect x="625" y="721" width="1" height="22" fill="#c0c0c0"/>
<rect x="629" y="724" width="1" height="19" fill="#c0c0c0"/>
<rect x="633" y="724" width="1" height="19" fill="#c0c0c0"/>
<rect x="637" y="725" width="1" height="18" fill="#c0c0c0"/>
<rect x="641" y="726" width="1" height="17" fill="#c0c0c0"/>
<rect x="645" y="725" width="1" height="18" fill="#c0c0c0"/>
<rect x="649" y="725" width="1" height="18" fill="#c0c0c0"/>
<rect x="653" y="725" width="1" height="18" fill="#c0c0c0"/>
<rect x="657" y="729" width="1" height="14" fill="#c0c0c0"/>
<rect x="661" y="733" width="1" height="10" fill="#c0c0c0"/>
<rect x="665" y="740" width="1" height="3" fill="#c0c0c0"/>
<rect x="669" y="742" width="1" height="2" fill="#c0c0c0"/>
<rect x="673" y="742" width="1" height="8" fill="#c0c0c0"/>
<rect x="677" y="742" width="1" height="12" fill="#c0c0c0"/>
<rect x="681" y="742" width="1" height="12" fill="#c0c0c0"/>
<rect x="685" y="742" width="1" height="12" fill="#c0c0c0"/>
<rect x="689" y="742" width="1" height="8" fill="#c0c0c0"/>
<rect x="693" y="742" width="1" height="4" fill="#c0c0c0"/>
<rect x="697" y="742" width="1" height="4" fill="#c0c0c0"/>
<rect x="701" y="742" width="1" height="3" fill="#c0c0c0"/>
<rect x="709" y="742" width="1" height="1" fill="#c0c0c0"/>
<rect x="713" y="741" width="1" height="2" fill="#c0c0c0"/>
<rect x="717" y="740" width="1" height="3" fill="#c0c0c0"/>
<rect x="721" y="739" width="1" height="4" fill="#c0c0c0"/>
<rect x="725" y="739" width="1" height="4" fill="#c0c0c0"/>
<rect x="729" y="738" width="1" height="5" fill="#c0c0c0"/>
<rect x="733" y="738" width="1" height="5" fill="#c0c0c0"/>
<rect x="737" y="739" width="1" height="4" fill="#c0c0c0"/>
<rect x="741" y="740" width="1" height="3" fill="#c0c0c0"/>
<rect x="745" y="741" width="1" height="2" fill="#c0c0c0"/>
<rect x="749" y="742" width="1" height="1" fill="#c0c0c0"/>
<rect x="753" y="739" width="1" height="4" fill="#c0c0c0"/>
<rect x="757" y="736" width="1" height="7" fill="#c0c0c0"/>
<rect x="761" y="733" width="1" height="10" fill="#c0c0c0"/>
<rect x="765" y="732" width="1" height="11" fill="#c0c0c0"/>
<rect x="769" y="732" width="1" height="11" fill="#c0c0c0"/>
<rect x="773" y="730" width="1" height="13" fill="#c0c0c0"/>
<rect x="777" y="730" width="1" height="13" fill="#c0c0c0"/>
<rect x="781" y="732" width="1" height="11" fill="#c0c0c0"/>
<rect x="785" y="739" width="1" height="4" fill="#c0c0c0"/>
<rect x="789" y="742" width="1" height="1" fill="#c0c0c0"/>
<rect x="793" y="742" width="1" height="3" fill="#c0c0c0"/>
<rect x="797" y="742" width="1" height="6" fill="#c0c0c0"/>
<rect x="801" y="742" width="1" height="8" fill="#c0c0c0"/>
<rect x="805" y="742" width="1" height="13" fill="#c0c0c0"/>
<rect x="809" y="742" width="1" height="17" fill="#c0c0c0"/>
<rect x="813" y="742" width="1" height="20" fill="#c0c0c0"/>
<rect x="817" y="742" width="1" height="24" fill="#c0c0c0"/>
<rect x="821" y="742" width="1" height="27" fill="#c0c0c0"/>
<rect x="825" y="742" width="1" height="29" fill="#c0c0c0"/>
<rect x="829" y="742" width="1" height="31" fill="#c0c0c0"/>
<rect x="833" y="742" width="1" height="33" fill="#c0c0c0"/>
<rect x="837" y="742" width="1" height="34" fill="#c0c0c0"/>
<rect x="841" y="742" width="1" height="34" fill="#c0c0c0"/>
<rect x="845" y="742" width="1" height="34" fill="#c0c0c0"/>
<rect x="849" y="742" width="1" height="27" fill="#c0c0c0"/>
<rect x="853" y="742" width="1" height="24" fill="#c0c0c0"/>
<rect x="857" y="742" width="1" height="21" fill="#c0c0c0"/>
<rect x="861" y="742" width="1" height="18" fill="#c0c0c0"/>
<rect x="865" y="742" width="1" height="16" fill="#c0c0c0"/>
<rect x="869" y="742" width="1" height="13" fill="#c0c0c0"/>
<rect x="873" y="742" width="1" height="10" fill="#c0c0c0"/>
<rect x="877" y="742" width="1" height="8" fill="#c0c0c0"/>
<rect x="881" y="742" width="1" height="3" fill="#c0c0c0"/>
<rect x="885" y="742" width="1" height="1" fill="#c0c0c0"/>
<rect x="889" y="740" width="1" height="3" fill="#c0c0c0"/>
<rect x="893" y="737" width="1" height="6" fill="#c0c0c0"/>
<rect x="897" y="734" width="1" height="9" fill="#c0c0c0"/>
<rect x="901" y="732" width="1" height="11" fill="#c0c0c0"/>
<rect x="905" y="732" width="1" height="11" fill="#c0c0c0"/>
<rect x="909" y="731" width="1" height="12" fill="#c0c0c0"/>
<rect x="913" y="732" width="1" height="11" fill="#c0c0c0"/>
<rect x="917" y="732" width="1" height="11" fill="#c0c0c0"/>
<rect x="921" y="728" width="1" height="15" fill="#c0c0c0"/>
<rect x="925" y="726" width="1" height="17" fill="#c0c0c0"/>
<rect x="929" y="725" width="1" height="18" fill="#c0c0c0"/>
<rect x="933" y="723" width="1" height="20" fill="#c0c0c0"/>
<rect x="937" y="721" width="1" height="22" fill="#c0c0c0"/>
<rect x="941" y="721" width="1" height="22" fill="#c0c0c0"/>
<rect x="945" y="722" width="1" height="21" fill="#c0c0c0"/>
<rect x="949" y="722" width="1" height="21" fill="#c0c0c0"/>
<rect x="953" y="723" width="1" height="20" fill="#c0c0c0"/>
<rect x="957" y="724" width="1" height="19" fill="#c0c0c0"/>
<rect x="961" y="724" width="1" height="19" fill="#c0c0c0"/>
<rect x="965" y="725" width="1" height="18" fill="#c0c0c0"/>
<rect x="969" y="728" width="1" height="15" fill="#c0c0c0"/>
<rect x="973" y="734" width="1" height="9" fill="#c0c0c0"/>
<rect x="977" y="734" width="1" height="9" fill="#c0c0c0"/>
<rect x="981" y="735" width="1" height="8" fill="#c0c0c0"/>
<rect x="985" y="738" width="1" height="5" fill="#c0c0c0"/>
<rect x="989" y="739" width="1" height="4" fill="#c0c0c0"/>
<rect x="993" y="741" width="1" height="2" fill="#c0c0c0"/>
<rect x="997" y="742" width="1" height="1" fill="#c0c0c0"/>
<rect x="1001" y="742" width="1" height="3" fill="#c0c0c0"/>
<rect x="1005" y="742" width="1" height="5" fill="#c0c0c0"/>
<rect x="1009" y="742" width="1" height="9" fill="#c0c0c0"/>
<rect x="1013" y="742" width="1" height="11" fill="#c0c0c0"/>
<rect x="1017" y="742" width="1" height="15" fill="#c0c0c0"/>
<rect x="1021" y="742" width="1" height="17" fill="#c0c0c0"/>
<rect x="1025" y="742" width="1" height="16" fill="#c0c0c0"/>
<rect x="1029" y="742" width="1" height="16" fill="#c0c0c0"/>
<rect x="1033" y="742" width="1" height="15" fill="#c0c0c0"/>
<rect x="1037" y="742" width="1" height="15" fill="#c0c0c0"/>
<rect x="1041" y="742" width="1" height="14" fill="#c0c0c0"/>
<rect x="1045" y="742" width="1" height="16" fill="#c0c0c0"/>
<rect x="1049" y="742" width="1" height="19" fill="#c0c0c0"/>
<rect x="1053" y="742" width="1" height="21" fill="#c0c0c0"/>
<rect x="1057" y="742" width="1" height="24" fill="#c0c0c0"/>
<rect x="1061" y="742" width="1" height="31" fill="#c0c0c0"/>
<rect x="1065" y="742" width="1" height="34" fill="#c0c0c0"/>
<rect x="1069" y="742" width="1" height="37" fill="#c0c0c0"/>
<rect x="1073" y="742" width="1" height="39" fill="#c0c0c0"/>
<rect x="1077" y="742" width="1" height="40" fill="#c0c0c0"/>
<rect x="1081" y="742" width="1" height="40" fill="#c0c0c0"/>
<rect x="1085" y="742" width="1" height="38" fill="#c0c0c0"/>
<rect x="1089" y="742" width="1" height="35" fill="#c0c0c0"/>
<rect x="1093" y="742" width="1" height="29" fill="#c0c0c0"/>
<rect x="1097" y="742" width="1" height="26" fill="#c0c0c0"/>
<rect x="1101" y="742" width="1" height="24" fill="#c0c0c0"/>
<rect x="1105" y="742" width="1" height="21" fill="#c0c0c0"/>
<rect x="1109" y="742" width="1" height="19" fill="#c0c0c0"/>
<rect x="1113" y="742" width="1" height="18" fill="#c0c0c0"/>
<rect x="1117" y="742" width="1" height="16" fill="#c0c0c0"/>
<rect x="1121" y="742" width="1" height="15" fill="#c0c0c0"/>
<rect x="1125" y="742" width="1" height="13" fill="#c0c0c0"/>
<rect x="1129" y="742" width="1" height="12" fill="#c0c0c0"/>
<rect x="1133" y="742" width="1" height="10" fill="#c0c0c0"/>
<rect x="1137" y="742" width="1" height="6" fill="#c0c0c0"/>
<rect x="1141" y="742" width="1" height="1" fill="#c0c0c0"/>
<rect x="1145" y="741" width="1" height="2" fill="#c0c0c0"/>
<rect x="1149" y="738" width="1" height="5" fill="#c0c0c0"/>
<rect x="1153" y="734" width="1" height="9" fill="#c0c0c0"/>
<rect x="1157" y="731" width="1" height="12" fill="#c0c0c0"/>
<rect x="1161" y="727" width="1" height="16" fill="#c0c0c0"/>
<rect x="1165" y="724" width="1" height="19" fill="#c0c0c0"/>
<rect x="1169" y="721" width="1" height="22" fill="#c0c0c0"/>
<rect x="1173" y="718" width="1" height="25" fill="#c0c0c0"/>
<rect x="1177" y="715" width="1" height="28" fill="#c0c0c0"/>
<rect x="1181" y="712" width="1" height="31" fill="#c0c0c0"/>
<rect x="1185" y="710" width="1" height="33" fill="#c0c0c0"/>
<rect x="1189" y="708" width="1" height="35" fill="#c0c0c0"/>
<rect x="1193" y="706" width="1" height="37" fill="#c0c0c0"/>
<rect x="1197" y="706" width="1" height="37" fill="#c0c0c0"/>
<rect x="1201" y="705" width="1" height="38" fill="#c0c0c0"/>
<rect x="1205" y="706" width="1" height="37" fill="#c0c0c0"/>
<rect x="1209" y="709" width="1" height="34" fill="#c0c0c0"/>
<rect x="1213" y="712" width="1" height="31" fill="#c0c0c0"/>
<rect x="1217" y="714" width="1" height="29" fill="#c0c0c0"/>
<rect x="1221" y="717" width="1" height="26" fill="#c0c0c0"/>
<rect x="1225" y="720" width="1" height="23" fill="#c0c0c0"/>
<rect x="1229" y="722" width="1" height="21" fill="#c0c0c0"/>
<rect x="1233" y="724" width="1" height="19" fill="#c0c0c0"/>
<rect x="1237" y="727" width="1" height="16" fill="#c0c0c0"/>
<rect x="1241" y="729" width="1" height="14" fill="#c0c0c0"/>
<rect x="1245" y="732" width="1" height="11" fill="#c0c0c0"/>
<rect x="1249" y="732" width="1" height="11" fill="#c0c0c0"/>
<rect x="1253" y="730" width="1" height="13" fill="#c0c0c0"/>
<rect x="1257" y="728" width="1" height="15" fill="#c0c0c0"/>
<rect x="1261" y="724" width="1" height="19" fill="#c0c0c0"/>
<rect x="1265" y="718" width="1" height="25" fill="#c0c0c0"/>
<rect x="1269" y="714" width="1" height="29" fill="#c0c0c0"/>
<rect x="1273" y="712" width="1" height="31" fill="#c0c0c0"/>
<rect x="1277" y="714" width="1" height="29" fill="#c0c0c0"/>
<rect x="1281" y="714" width="1" height="29" fill="#c0c0c0"/>
<polyline points="5.5,751.7 9.5,753.1 13.5,754.4 17.5,755.1 21.5,755.0 25.5,754.0 29.5,752.3 33.5,749.4 37.5,745.6 41.5,741.0 45.5,735.9 49.5,730.5 53.5,725.6 57.5,721.8 61.5,719.2 65.5,717.4 69.5,716.7 73.5,717.0 77.5,718.4 81.5,720.2 85.5,722.1 89.5,723.7 93.5,724.6 97.5,724.9 101.5,725.0 105.5,724.8 109.5,724.4 113.5,723.8 117.5,723.5 121.5,723.6 125.5,724.1 129.5,725.3 133.5,726.9 137.5,728.2 141.5,729.7 145.5,731.6 149.5,733.5 153.5,735.2 157.5,736.5 161.5,737.7 165.5,738.5 169.5,739.1 173.5,739.9 177.5,740.7 181.5,741.1 185.5,741.1 189.5,740.7 193.5,740.6 197.5,740.0 201.5,738.8 205.5,737.2 209.5,735.3 213.5,733.3 217.5,731.4 221.5,729.6 225.5,728.2 229.5,726.6 233.5,725.5 237.5,725.1 241.5,725.2 245.5,725.4 249.5,725.8 253.5,726.0 257.5,726.3 261.5,726.8 265.5,727.3 269.5,727.6 273.5,728.0 277.5,728.6 281.5,729.1 285.5,729.8 289.5,730.8 293.5,731.8 297.5,732.7 301.5,733.4 305.5,734.2 309.5,734.8 313.5,735.4 317.5,735.9 321.5,735.8 325.5,735.4 329.5,734.6 333.5,733.5 337.5,732.6 341.5,732.3 345.5,732.4 349.5,732.9 353.5,734.6 357.5,737.4 361.5,741.2 365.5,745.5 369.5,750.1 373.5,754.4 377.5,757.9 381.5,760.4 385.5,762.0 389.5,762.4 393.5,761.9 397.5,761.6 401.5,761.6 405.5,761.9 409.5,762.7 413.5,764.3 417.5,767.2 421.5,770.7 425.5,775.0 429.5,779.5 433.5,783.2 437.5,786.2 441.5,788.8 445.5,791.2 449.5,792.8 453.5,793.6 457.5,793.8 461.5,793.2 465.5,792.1 469.5,790.9 473.5,789.9 477.5,788.7 481.5,787.4 485.5,786.2 489.5,785.0 493.5,783.6 497.5,782.3 501.5,781.0 505.5,779.3 509.5,776.9 513.5,774.1 517.5,770.9 521.5,767.2 525.5,763.3 529.5,759.6 533.5,756.0 537.5,752.6 541.5,749.2 545.5,746.1 549.5,743.1 553.5,740.5 557.5,738.1 561.5,735.3 565.5,732.7 569.5,730.4 573.5,728.3 577.5,726.7 581.5,725.6 585.5,724.2 589.5,722.7 593.5,721.5 597.5,721.2 601.5,720.9 605.5,720.2 609.5,719.6 613.5,719.0 617.5,718.2 621.5,718.0 625.5,718.3 629.5,718.9 633.5,719.4 637.5,720.1 641.5,721.2 645.5,722.0 649.5,722.7 653.5,723.4 657.5,724.5 661.5,725.8 665.5,727.6 669.5,729.9 673.5,732.7 677.5,735.9 681.5,739.2 685.5,742.5 689.5,745.4 693.5,747.5 697.5,749.0 701.5,749.6 705.5,749.4 709.5,748.5 713.5,746.9 717.5,745.2 721.5,743.4 725.5,742.1 729.5,741.1 733.5,740.2 737.5,739.4 741.5,739.1 745.5,739.0 749.5,739.2 753.5,739.1 757.5,738.8 761.5,738.1 765.5,737.4 769.5,736.7 773.5,735.7 777.5,734.5 781.5,733.5 785.5,733.1 789.5,733.7 793.5,734.7 797.5,736.5 801.5,738.6 805.5,741.4 809.5,744.7 813.5,748.4 817.5,752.3 821.5,755.8 825.5,758.9 829.5,762.0 833.5,765.0 837.5,767.9 841.5,770.2 845.5,772.0 849.5,772.8 853.5,772.8 857.5,772.1 861.5,770.9 865.5,769.2 869.5,767.0 873.5,764.4 877.5,761.4 881.5,758.1 885.5,755.0 889.5,752.0 893.5,749.1 897.5,746.1 901.5,743.1 905.5,740.4 909.5,737.9 913.5,735.8 917.5,734.2 921.5,732.6 925.5,731.0 929.5,729.6 933.5,728.4 937.5,727.2 941.5,726.1 945.5,725.0 949.5,724.0 953.5,723.1 957.5,722.7 961.5,722.4 965.5,722.4 969.5,723.0 973.5,724.4 977.5,725.8 981.5,727.3 985.5,729.0 989.5,730.8 993.5,732.7 997.5,734.9 1001.5,737.3 1005.5,739.5 1009.5,741.5 1013.5,743.7 1017.5,746.2 1021.5,748.7 1025.5,750.9 1029.5,752.8 1033.5,754.3 1037.5,755.7 1041.5,756.6 1045.5,757.4 1049.5,758.3 1053.5,759.0 1057.5,759.8 1061.5,761.4 1065.5,763.4 1069.5,766.0 1073.5,768.6 1077.5,771.5 1081.5,774.2 1085.5,776.4 1089.5,777.9 1093.5,778.4 1097.5,778.0 1101.5,776.8 1105.5,775.0 1109.5,772.8 1113.5,770.3 1117.5,767.7 1121.5,765.0 1125.5,762.6 1129.5,760.6 1133.5,758.8 1137.5,756.8 1141.5,754.6 1145.5,752.2 1149.5,749.7 1153.5,746.9 1157.5,743.9 1161.5,740.7 1165.5,737.3 1169.5,733.7 1173.5,730.3 1177.5,727.2 1181.5,724.0 1185.5,720.9 1189.5,718.0 1193.5,715.3 1197.5,712.9 1201.5,710.9 1205.5,709.3 1209.5,708.2 1213.5,707.8 1217.5,708.0 1221.5,708.8 1225.5,710.2 1229.5,711.9 1233.5,713.9 1237.5,716.3 1241.5,718.9 1245.5,721.4 1249.5,723.6 1253.5,725.4 1257.5,726.6 1261.5,727.1 1265.5,726.7 1269.5,725.6 1273.5,724.0 1277.5,722.3 1281.5,720.3" fill="none" stroke="#ff0000" stroke-width="1" shape-rendering="crispEdges" stroke-linejoin="round" stroke-dasharray="3,3"/>
<text x="1615.6" y="708.9" font-size="9.2" fill="#000">0.006448</text>
<text x="1615.6" y="745.8" font-size="9.2" fill="#000">0.00</text>
<text x="1615.6" y="798.1" font-size="9.2" fill="#000">-0.00898</text>
<path d="M1613,592.5 H1614 M1613,696.5 H1614 M1613,698.5 H1614 M1613,742.5 H1615 M1613,801.5 H1614 M1613,590.5 H1614" stroke="#000"/>
<path d="M5.5,802 V804" stroke="#000"/>
<text x="4" y="814.3" font-size="9.45" fill="#000">26 Feb 2019</text>
<path d="M69.5,802 V804" stroke="#000"/>
<text x="68" y="814.3" font-size="9.45" fill="#000">16 Mar 2019</text>
<path d="M133.5,802 V804" stroke="#000"/>
<text x="132" y="814.3" font-size="9.45" fill="#000">4 Apr 2019</text>
<path d="M197.5,802 V804" stroke="#000"/>
<text x="196" y="814.3" font-size="9.45" fill="#000">23 Apr 2019</text>
<path d="M261.5,802 V804" stroke="#000"/>
<text x="260" y="814.3" font-size="9.45" fill="#000">11 May 2019</text>
<path d="M325.5,802 V804" stroke="#000"/>
<text x="324" y="814.3" font-size="9.45" fill="#000">30 May 2019</text>
<path d="M389.5,802 V804" stroke="#000"/>
<text x="388" y="814.3" font-size="9.45" fill="#000">18 Jun 2019</text>
<path d="M453.5,802 V804" stroke="#000"/>
<text x="452" y="814.3" font-size="9.45" fill="#000">6 Jul 2019</text>
<path d="M517.5,802 V804" stroke="#000"/>
<text x="516" y="814.3" font-size="9.45" fill="#000">25 Jul 2019</text>
<path d="M581.5,802 V804" stroke="#000"/>
<text x="580" y="814.3" font-size="9.45" fill="#000">13 Aug 2019</text>
<path d="M645.5,802 V804" stroke="#000"/>
<text x="644" y="814.3" font-size="9.45" fill="#000">31 Aug 2019</text>
<path d="M709.5,802 V804" stroke="#000"/>
<text x="708" y="814.3" font-size="9.45" fill="#000">19 Sep 2019</text>
<path d="M773.5,802 V804" stroke="#000"/>
<text x="772" y="814.3" font-size="9.45" fill="#000">8 Oct 2019</text>
<path d="M837.5,802 V804" stroke="#000"/>
<text x="836" y="814.3" font-size="9.45" fill="#000">26 Oct 2019</text>
<path d="M901.5,802 V804" stroke="#000"/>
<text x="900" y="814.3" font-size="9.45" fill="#000">14 Nov 2019</text>
<path d="M965.5,802 V804" stroke="#000"/>
<text x="964" y="814.3" font-size="9.45" fill="#000">3 Dec 2019</text>
<path d="M1029.5,802 V804" stroke="#000"/>
<text x="1028" y="814.3" font-size="9.45" fill="#000">21 Dec 2019</text>
<path d="M1093.5,802 V804" stroke="#000"/>
<text x="1092" y="814.3" font-size="9.45" fill="#000">9 Jan 2020</text>
<path d="M1157.5,802 V804" stroke="#000"/>
<text x="1156" y="814.3" font-size="9.45" fill="#000">28 Jan 2020</text>
<path d="M1221.5,802 V804" stroke="#000"/>
<text x="1220" y="814.3" font-size="9.45" fill="#000">15 Feb 2020</text>
<g stroke="#000" stroke-width="1" fill="none"><path d="M4.5,23.5 H1612.5 M4.5,23.5 V590.5 H1612.5 M1612.5,23.5 V801.5"/><path d="M4.5,696.5 V592.5 H1612.5 M4.5,696.5 H1612.5"/><path d="M4.5,801.5 V698.5 H1612.5 M4.5,801.5 H1612.5"/></g>
</svg>
<div class="abs" style="left:0;top:822px;width:1652px;height:1px;background:#e6e6e6"></div>
<div class="abs" style="left:0;top:824px;width:1652px;height:22px;background:#f0f0f0;border-top:1px solid #000;box-sizing:border-box"></div>
<div class="abs" style="left:0;top:844px;width:1652px;height:1px;background:#fdfdfd"></div>
<div class="abs" style="left:314px;top:824px;width:104px;height:19px;background:#fff;border:1px solid #000;border-top:none;box-sizing:border-box;box-shadow:1px 1px 0 #c8c8c8"></div>
<div class="abs" style="left:0;top:825px;width:1px;height:19px;background:#a6a6a6"></div><div class="abs" style="left:1px;top:825px;width:1px;height:18px;background:#747474"></div>
<div class="tab" style="left:18.3px;">EURUSD,Daily</div>
<div class="tab" style="left:120.3px;">USDCHF,Daily</div>
<div class="tab" style="left:221.2px;">AUDUSD,Daily</div>
<div class="tab" style="left:325.9px;color:#000;">USDCAD,Daily</div>
<div class="tab" style="left:428.5px;">USDCNH,Daily</div>
<div class="tab" style="left:534.2px;">EURUSD,H1</div>
<div class="tab" style="left:626.3px;">GBPUSD,Daily</div>
<div class="tab" style="left:728.8px;">XAUUSD,H1</div>
<div class="tab" style="left:821.6px;">HK50,H1</div>
<div class="tab" style="left:893.6px;">UK100,Daily</div>
<div class="tab" style="left:985.6px;">UK100,H1</div>
<div class="tab" style="left:1065.2px;">GER30,H1</div>
<div class="tab" style="left:1144.0px;">FRA40,H1</div>
<div class="sep" style="left:110px"></div>
<div class="sep" style="left:210px"></div>
<div class="sep" style="left:522px"></div>
<div class="sep" style="left:614px"></div>
<div class="sep" style="left:718px"></div>
<div class="sep" style="left:810px"></div>
<div class="sep" style="left:882px"></div>
<div class="sep" style="left:974px"></div>
<div class="sep" style="left:1054px"></div>
<div class="sep" style="left:1134px"></div>
<div class="sep" style="left:1210px"></div>
<svg class="abs" style="left:1620px;top:826px" width="32" height="14" viewBox="0 0 32 14"><polygon points="11,4 11,10 7.6,7" fill="#a0a0a0"/><polygon points="27.2,4 27.2,10 30.6,7" fill="#a0a0a0"/></svg>
</body></html>
